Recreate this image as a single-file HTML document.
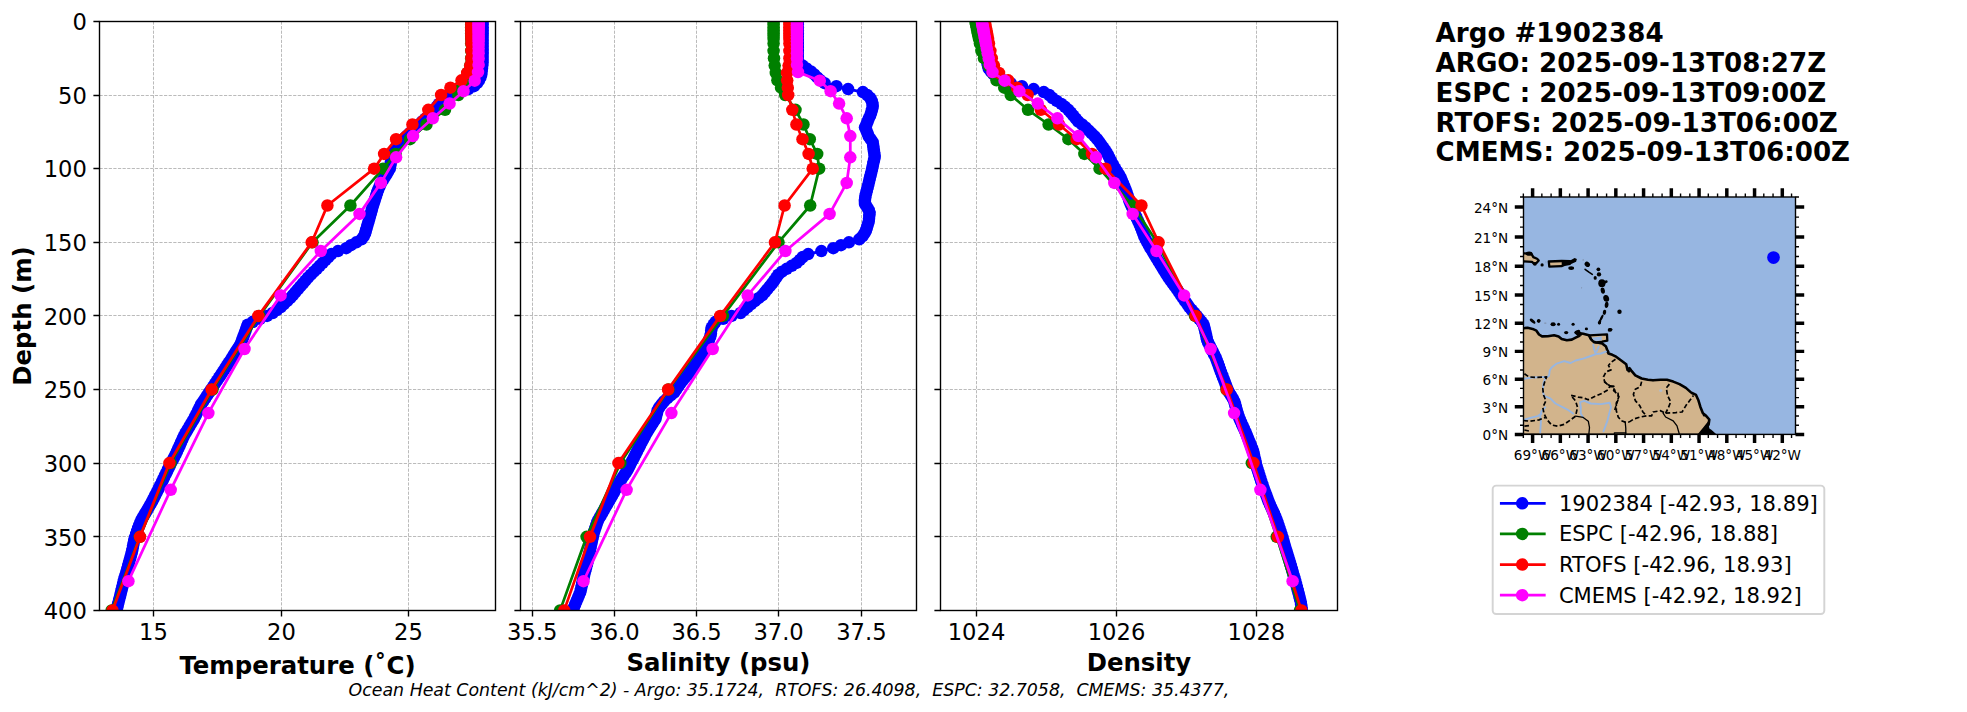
<!DOCTYPE html>
<html><head><meta charset="utf-8"><title>Argo #1902384</title>
<style>html,body{margin:0;padding:0;background:#fff}svg{display:block}text{white-space:pre}</style></head>
<body>
<svg width="1967" height="712" viewBox="0 0 1967 712" font-family='"DejaVu Sans","Liberation Sans",sans-serif'>
<rect width="1967" height="712" fill="#fff"/>
<defs><clipPath id="c0"><rect x="99.50" y="21.40" width="396.00" height="589.00"/></clipPath><clipPath id="c1"><rect x="520.50" y="21.40" width="396.00" height="589.00"/></clipPath><clipPath id="c2"><rect x="940.50" y="21.40" width="397.00" height="589.00"/></clipPath></defs>
<path d="M99.50 95.50H495.50 M99.50 168.50H495.50 M99.50 242.50H495.50 M99.50 315.50H495.50 M99.50 389.50H495.50 M99.50 463.50H495.50 M99.50 536.50H495.50 M153.50 21.40V610.40 M281.50 21.40V610.40 M408.50 21.40V610.40" stroke="#b0b0b0" stroke-width="0.87" stroke-dasharray="3.22 1.39" fill="none"/>
<g clip-path="url(#c0)">
<polyline points="482.6,21.4 482.6,24.3 482.6,27.3 482.6,30.2 482.6,33.2 482.6,36.1 482.6,39.1 482.6,42.0 482.6,45.0 482.6,47.9 482.6,50.8 482.6,53.8 482.6,56.7 482.6,59.7 482.6,62.6 482.3,65.6 482.0,68.5 481.6,71.5 481.3,74.4 480.4,77.4 479.0,80.3 477.0,83.2 474.0,86.2 468.4,89.1 459.7,92.1 450.9,95.0 446.3,98.0 442.6,100.9 438.8,103.9 436.6,106.8 435.0,109.8 431.8,112.7 428.6,115.6 425.4,118.6 422.2,121.5 419.0,124.5 415.8,127.4 412.6,130.4 409.4,133.3 406.2,136.3 403.0,139.2 400.9,142.1 398.8,145.1 396.7,148.0 394.6,151.0 392.5,153.9 392.0,156.9 391.4,159.8 390.9,162.8 390.3,165.7 389.8,168.7 388.1,171.6 386.4,174.5 384.5,177.5 382.7,180.4 380.8,183.4 379.6,186.3 378.3,189.3 377.2,192.2 376.3,195.2 375.4,198.1 374.5,201.0 373.5,204.0 372.6,206.9 371.8,209.9 371.0,212.8 370.1,215.8 369.3,218.7 368.5,221.7 367.6,224.6 366.8,227.6 365.9,230.5 365.1,233.4 363.7,236.4 361.5,239.3 356.3,242.3 350.9,245.2 346.2,248.2 338.0,251.1 331.4,254.1 328.5,257.0 325.6,259.9 322.7,262.9 319.7,265.8 316.8,268.8 313.9,271.7 310.9,274.7 308.0,277.6 305.4,280.6 302.9,283.5 300.3,286.4 297.8,289.4 295.2,292.3 292.7,295.3 290.1,298.2 287.0,301.2 284.0,304.1 280.9,307.1 276.9,310.0 272.7,313.0 267.1,315.9 259.9,318.8 252.8,321.8 247.7,324.7 246.6,327.7 245.6,330.6 244.5,333.6 243.4,336.5 242.3,339.5 241.3,342.4 239.8,345.3 237.9,348.3 236.1,351.2 234.2,354.2 232.4,357.1 230.6,360.1 228.6,363.0 226.7,366.0 224.8,368.9 222.8,371.9 220.9,374.8 219.0,377.7 217.0,380.7 215.0,383.6 213.1,386.6 211.1,389.5 209.1,392.5 207.1,395.4 205.2,398.4 203.2,401.3 201.2,404.2 199.8,407.2 198.3,410.1 196.9,413.1 195.5,416.0 194.0,419.0 192.2,421.9 190.4,424.9 188.7,427.8 186.9,430.8 185.2,433.7 183.6,436.6 182.3,439.6 181.0,442.5 179.7,445.5 178.3,448.4 177.0,451.4 175.6,454.3 174.1,457.3 172.6,460.2 171.1,463.1 169.7,466.1 168.2,469.0 166.8,472.0 165.3,474.9 163.9,477.9 162.5,480.8 161.1,483.8 159.6,486.7 158.1,489.7 156.6,492.6 155.1,495.5 153.6,498.5 152.1,501.4 150.4,504.4 148.7,507.3 147.0,510.3 145.3,513.2 143.5,516.2 141.8,519.1 140.6,522.0 139.4,525.0 138.2,527.9 137.2,530.9 136.2,533.8 135.3,536.8 134.3,539.7 133.7,542.7 133.1,545.6 132.6,548.6 132.0,551.5 131.2,554.4 130.4,557.4 129.6,560.3 128.8,563.3 128.1,566.2 127.2,569.2 126.4,572.1 125.5,575.1 124.6,578.0 123.8,580.9 123.1,583.9 122.4,586.8 121.7,589.8 120.9,592.7 120.2,595.7 119.4,598.6 118.7,601.6 117.9,604.5 117.2,607.5 116.6,610.4" fill="none" stroke="#0000ff" stroke-width="2.75" stroke-linejoin="round"/>
<g fill="#0000ff"><circle cx="482.6" cy="21.4" r="6.25"/><circle cx="482.6" cy="24.3" r="6.25"/><circle cx="482.6" cy="27.3" r="6.25"/><circle cx="482.6" cy="30.2" r="6.25"/><circle cx="482.6" cy="33.2" r="6.25"/><circle cx="482.6" cy="36.1" r="6.25"/><circle cx="482.6" cy="39.1" r="6.25"/><circle cx="482.6" cy="42.0" r="6.25"/><circle cx="482.6" cy="45.0" r="6.25"/><circle cx="482.6" cy="47.9" r="6.25"/><circle cx="482.6" cy="50.8" r="6.25"/><circle cx="482.6" cy="53.8" r="6.25"/><circle cx="482.6" cy="56.7" r="6.25"/><circle cx="482.6" cy="59.7" r="6.25"/><circle cx="482.6" cy="62.6" r="6.25"/><circle cx="482.3" cy="65.6" r="6.25"/><circle cx="482.0" cy="68.5" r="6.25"/><circle cx="481.6" cy="71.5" r="6.25"/><circle cx="481.3" cy="74.4" r="6.25"/><circle cx="480.4" cy="77.4" r="6.25"/><circle cx="479.0" cy="80.3" r="6.25"/><circle cx="477.0" cy="83.2" r="6.25"/><circle cx="474.0" cy="86.2" r="6.25"/><circle cx="468.4" cy="89.1" r="6.25"/><circle cx="459.7" cy="92.1" r="6.25"/><circle cx="450.9" cy="95.0" r="6.25"/><circle cx="446.3" cy="98.0" r="6.25"/><circle cx="442.6" cy="100.9" r="6.25"/><circle cx="438.8" cy="103.9" r="6.25"/><circle cx="436.6" cy="106.8" r="6.25"/><circle cx="435.0" cy="109.8" r="6.25"/><circle cx="431.8" cy="112.7" r="6.25"/><circle cx="428.6" cy="115.6" r="6.25"/><circle cx="425.4" cy="118.6" r="6.25"/><circle cx="422.2" cy="121.5" r="6.25"/><circle cx="419.0" cy="124.5" r="6.25"/><circle cx="415.8" cy="127.4" r="6.25"/><circle cx="412.6" cy="130.4" r="6.25"/><circle cx="409.4" cy="133.3" r="6.25"/><circle cx="406.2" cy="136.3" r="6.25"/><circle cx="403.0" cy="139.2" r="6.25"/><circle cx="400.9" cy="142.1" r="6.25"/><circle cx="398.8" cy="145.1" r="6.25"/><circle cx="396.7" cy="148.0" r="6.25"/><circle cx="394.6" cy="151.0" r="6.25"/><circle cx="392.5" cy="153.9" r="6.25"/><circle cx="392.0" cy="156.9" r="6.25"/><circle cx="391.4" cy="159.8" r="6.25"/><circle cx="390.9" cy="162.8" r="6.25"/><circle cx="390.3" cy="165.7" r="6.25"/><circle cx="389.8" cy="168.7" r="6.25"/><circle cx="388.1" cy="171.6" r="6.25"/><circle cx="386.4" cy="174.5" r="6.25"/><circle cx="384.5" cy="177.5" r="6.25"/><circle cx="382.7" cy="180.4" r="6.25"/><circle cx="380.8" cy="183.4" r="6.25"/><circle cx="379.6" cy="186.3" r="6.25"/><circle cx="378.3" cy="189.3" r="6.25"/><circle cx="377.2" cy="192.2" r="6.25"/><circle cx="376.3" cy="195.2" r="6.25"/><circle cx="375.4" cy="198.1" r="6.25"/><circle cx="374.5" cy="201.0" r="6.25"/><circle cx="373.5" cy="204.0" r="6.25"/><circle cx="372.6" cy="206.9" r="6.25"/><circle cx="371.8" cy="209.9" r="6.25"/><circle cx="371.0" cy="212.8" r="6.25"/><circle cx="370.1" cy="215.8" r="6.25"/><circle cx="369.3" cy="218.7" r="6.25"/><circle cx="368.5" cy="221.7" r="6.25"/><circle cx="367.6" cy="224.6" r="6.25"/><circle cx="366.8" cy="227.6" r="6.25"/><circle cx="365.9" cy="230.5" r="6.25"/><circle cx="365.1" cy="233.4" r="6.25"/><circle cx="363.7" cy="236.4" r="6.25"/><circle cx="361.5" cy="239.3" r="6.25"/><circle cx="356.3" cy="242.3" r="6.25"/><circle cx="350.9" cy="245.2" r="6.25"/><circle cx="346.2" cy="248.2" r="6.25"/><circle cx="338.0" cy="251.1" r="6.25"/><circle cx="331.4" cy="254.1" r="6.25"/><circle cx="328.5" cy="257.0" r="6.25"/><circle cx="325.6" cy="259.9" r="6.25"/><circle cx="322.7" cy="262.9" r="6.25"/><circle cx="319.7" cy="265.8" r="6.25"/><circle cx="316.8" cy="268.8" r="6.25"/><circle cx="313.9" cy="271.7" r="6.25"/><circle cx="310.9" cy="274.7" r="6.25"/><circle cx="308.0" cy="277.6" r="6.25"/><circle cx="305.4" cy="280.6" r="6.25"/><circle cx="302.9" cy="283.5" r="6.25"/><circle cx="300.3" cy="286.4" r="6.25"/><circle cx="297.8" cy="289.4" r="6.25"/><circle cx="295.2" cy="292.3" r="6.25"/><circle cx="292.7" cy="295.3" r="6.25"/><circle cx="290.1" cy="298.2" r="6.25"/><circle cx="287.0" cy="301.2" r="6.25"/><circle cx="284.0" cy="304.1" r="6.25"/><circle cx="280.9" cy="307.1" r="6.25"/><circle cx="276.9" cy="310.0" r="6.25"/><circle cx="272.7" cy="313.0" r="6.25"/><circle cx="267.1" cy="315.9" r="6.25"/><circle cx="259.9" cy="318.8" r="6.25"/><circle cx="252.8" cy="321.8" r="6.25"/><circle cx="247.7" cy="324.7" r="6.25"/><circle cx="246.6" cy="327.7" r="6.25"/><circle cx="245.6" cy="330.6" r="6.25"/><circle cx="244.5" cy="333.6" r="6.25"/><circle cx="243.4" cy="336.5" r="6.25"/><circle cx="242.3" cy="339.5" r="6.25"/><circle cx="241.3" cy="342.4" r="6.25"/><circle cx="239.8" cy="345.3" r="6.25"/><circle cx="237.9" cy="348.3" r="6.25"/><circle cx="236.1" cy="351.2" r="6.25"/><circle cx="234.2" cy="354.2" r="6.25"/><circle cx="232.4" cy="357.1" r="6.25"/><circle cx="230.6" cy="360.1" r="6.25"/><circle cx="228.6" cy="363.0" r="6.25"/><circle cx="226.7" cy="366.0" r="6.25"/><circle cx="224.8" cy="368.9" r="6.25"/><circle cx="222.8" cy="371.9" r="6.25"/><circle cx="220.9" cy="374.8" r="6.25"/><circle cx="219.0" cy="377.7" r="6.25"/><circle cx="217.0" cy="380.7" r="6.25"/><circle cx="215.0" cy="383.6" r="6.25"/><circle cx="213.1" cy="386.6" r="6.25"/><circle cx="211.1" cy="389.5" r="6.25"/><circle cx="209.1" cy="392.5" r="6.25"/><circle cx="207.1" cy="395.4" r="6.25"/><circle cx="205.2" cy="398.4" r="6.25"/><circle cx="203.2" cy="401.3" r="6.25"/><circle cx="201.2" cy="404.2" r="6.25"/><circle cx="199.8" cy="407.2" r="6.25"/><circle cx="198.3" cy="410.1" r="6.25"/><circle cx="196.9" cy="413.1" r="6.25"/><circle cx="195.5" cy="416.0" r="6.25"/><circle cx="194.0" cy="419.0" r="6.25"/><circle cx="192.2" cy="421.9" r="6.25"/><circle cx="190.4" cy="424.9" r="6.25"/><circle cx="188.7" cy="427.8" r="6.25"/><circle cx="186.9" cy="430.8" r="6.25"/><circle cx="185.2" cy="433.7" r="6.25"/><circle cx="183.6" cy="436.6" r="6.25"/><circle cx="182.3" cy="439.6" r="6.25"/><circle cx="181.0" cy="442.5" r="6.25"/><circle cx="179.7" cy="445.5" r="6.25"/><circle cx="178.3" cy="448.4" r="6.25"/><circle cx="177.0" cy="451.4" r="6.25"/><circle cx="175.6" cy="454.3" r="6.25"/><circle cx="174.1" cy="457.3" r="6.25"/><circle cx="172.6" cy="460.2" r="6.25"/><circle cx="171.1" cy="463.1" r="6.25"/><circle cx="169.7" cy="466.1" r="6.25"/><circle cx="168.2" cy="469.0" r="6.25"/><circle cx="166.8" cy="472.0" r="6.25"/><circle cx="165.3" cy="474.9" r="6.25"/><circle cx="163.9" cy="477.9" r="6.25"/><circle cx="162.5" cy="480.8" r="6.25"/><circle cx="161.1" cy="483.8" r="6.25"/><circle cx="159.6" cy="486.7" r="6.25"/><circle cx="158.1" cy="489.7" r="6.25"/><circle cx="156.6" cy="492.6" r="6.25"/><circle cx="155.1" cy="495.5" r="6.25"/><circle cx="153.6" cy="498.5" r="6.25"/><circle cx="152.1" cy="501.4" r="6.25"/><circle cx="150.4" cy="504.4" r="6.25"/><circle cx="148.7" cy="507.3" r="6.25"/><circle cx="147.0" cy="510.3" r="6.25"/><circle cx="145.3" cy="513.2" r="6.25"/><circle cx="143.5" cy="516.2" r="6.25"/><circle cx="141.8" cy="519.1" r="6.25"/><circle cx="140.6" cy="522.0" r="6.25"/><circle cx="139.4" cy="525.0" r="6.25"/><circle cx="138.2" cy="527.9" r="6.25"/><circle cx="137.2" cy="530.9" r="6.25"/><circle cx="136.2" cy="533.8" r="6.25"/><circle cx="135.3" cy="536.8" r="6.25"/><circle cx="134.3" cy="539.7" r="6.25"/><circle cx="133.7" cy="542.7" r="6.25"/><circle cx="133.1" cy="545.6" r="6.25"/><circle cx="132.6" cy="548.6" r="6.25"/><circle cx="132.0" cy="551.5" r="6.25"/><circle cx="131.2" cy="554.4" r="6.25"/><circle cx="130.4" cy="557.4" r="6.25"/><circle cx="129.6" cy="560.3" r="6.25"/><circle cx="128.8" cy="563.3" r="6.25"/><circle cx="128.1" cy="566.2" r="6.25"/><circle cx="127.2" cy="569.2" r="6.25"/><circle cx="126.4" cy="572.1" r="6.25"/><circle cx="125.5" cy="575.1" r="6.25"/><circle cx="124.6" cy="578.0" r="6.25"/><circle cx="123.8" cy="580.9" r="6.25"/><circle cx="123.1" cy="583.9" r="6.25"/><circle cx="122.4" cy="586.8" r="6.25"/><circle cx="121.7" cy="589.8" r="6.25"/><circle cx="120.9" cy="592.7" r="6.25"/><circle cx="120.2" cy="595.7" r="6.25"/><circle cx="119.4" cy="598.6" r="6.25"/><circle cx="118.7" cy="601.6" r="6.25"/><circle cx="117.9" cy="604.5" r="6.25"/><circle cx="117.2" cy="607.5" r="6.25"/><circle cx="116.6" cy="610.4" r="6.25"/></g>
<polyline points="471.2,21.4 471.2,24.3 471.2,27.3 471.2,30.2 471.2,33.2 471.2,36.1 471.2,39.1 471.2,43.5 471.2,50.8 471.2,58.2 470.2,65.6 467.6,72.9 464.5,80.3 461.5,87.7 458.4,95.0 445.0,109.8 426.5,124.5 410.0,139.2 395.5,153.9 383.1,168.7 350.4,205.5 312.5,242.3 259.3,315.9 212.5,389.5 170.6,463.1 139.8,536.8 111.6,610.4" fill="none" stroke="#008000" stroke-width="2.75" stroke-linejoin="round"/>
<g fill="#008000"><circle cx="471.2" cy="21.4" r="6.25"/><circle cx="471.2" cy="24.3" r="6.25"/><circle cx="471.2" cy="27.3" r="6.25"/><circle cx="471.2" cy="30.2" r="6.25"/><circle cx="471.2" cy="33.2" r="6.25"/><circle cx="471.2" cy="36.1" r="6.25"/><circle cx="471.2" cy="39.1" r="6.25"/><circle cx="471.2" cy="43.5" r="6.25"/><circle cx="471.2" cy="50.8" r="6.25"/><circle cx="471.2" cy="58.2" r="6.25"/><circle cx="470.2" cy="65.6" r="6.25"/><circle cx="467.6" cy="72.9" r="6.25"/><circle cx="464.5" cy="80.3" r="6.25"/><circle cx="461.5" cy="87.7" r="6.25"/><circle cx="458.4" cy="95.0" r="6.25"/><circle cx="445.0" cy="109.8" r="6.25"/><circle cx="426.5" cy="124.5" r="6.25"/><circle cx="410.0" cy="139.2" r="6.25"/><circle cx="395.5" cy="153.9" r="6.25"/><circle cx="383.1" cy="168.7" r="6.25"/><circle cx="350.4" cy="205.5" r="6.25"/><circle cx="312.5" cy="242.3" r="6.25"/><circle cx="259.3" cy="315.9" r="6.25"/><circle cx="212.5" cy="389.5" r="6.25"/><circle cx="170.6" cy="463.1" r="6.25"/><circle cx="139.8" cy="536.8" r="6.25"/><circle cx="111.6" cy="610.4" r="6.25"/></g>
<polyline points="471.4,21.4 471.4,24.3 471.4,27.3 471.4,30.2 471.4,33.2 471.4,36.1 471.4,39.1 471.4,43.5 471.4,50.8 471.4,58.2 470.2,65.6 467.2,72.9 461.5,80.3 450.4,87.7 441.1,95.0 428.3,109.8 412.4,124.5 396.1,139.2 384.1,153.9 374.1,168.7 327.4,205.5 311.7,242.3 258.3,315.9 211.6,389.5 169.4,463.1 140.0,536.8 112.5,610.4" fill="none" stroke="#ff0000" stroke-width="2.75" stroke-linejoin="round"/>
<g fill="#ff0000"><circle cx="471.4" cy="21.4" r="6.25"/><circle cx="471.4" cy="24.3" r="6.25"/><circle cx="471.4" cy="27.3" r="6.25"/><circle cx="471.4" cy="30.2" r="6.25"/><circle cx="471.4" cy="33.2" r="6.25"/><circle cx="471.4" cy="36.1" r="6.25"/><circle cx="471.4" cy="39.1" r="6.25"/><circle cx="471.4" cy="43.5" r="6.25"/><circle cx="471.4" cy="50.8" r="6.25"/><circle cx="471.4" cy="58.2" r="6.25"/><circle cx="470.2" cy="65.6" r="6.25"/><circle cx="467.2" cy="72.9" r="6.25"/><circle cx="461.5" cy="80.3" r="6.25"/><circle cx="450.4" cy="87.7" r="6.25"/><circle cx="441.1" cy="95.0" r="6.25"/><circle cx="428.3" cy="109.8" r="6.25"/><circle cx="412.4" cy="124.5" r="6.25"/><circle cx="396.1" cy="139.2" r="6.25"/><circle cx="384.1" cy="153.9" r="6.25"/><circle cx="374.1" cy="168.7" r="6.25"/><circle cx="327.4" cy="205.5" r="6.25"/><circle cx="311.7" cy="242.3" r="6.25"/><circle cx="258.3" cy="315.9" r="6.25"/><circle cx="211.6" cy="389.5" r="6.25"/><circle cx="169.4" cy="463.1" r="6.25"/><circle cx="140.0" cy="536.8" r="6.25"/><circle cx="112.5" cy="610.4" r="6.25"/></g>
<polyline points="478.6,22.1 478.6,23.7 478.6,25.3 478.6,27.0 478.6,28.9 478.6,30.9 478.6,33.1 478.6,35.5 478.6,38.2 478.6,41.2 478.6,44.7 478.6,48.6 478.6,53.2 478.6,58.5 478.6,64.7 478.0,72.1 474.7,80.7 463.5,91.2 449.6,103.6 432.8,118.3 413.0,136.1 396.1,157.3 380.9,182.9 359.5,213.9 320.8,251.0 280.6,295.4 244.5,349.0 208.4,413.1 170.7,489.8 128.4,581.2" fill="none" stroke="#ff00ff" stroke-width="2.75" stroke-linejoin="round"/>
<g fill="#ff00ff"><circle cx="478.6" cy="22.1" r="6.25"/><circle cx="478.6" cy="23.7" r="6.25"/><circle cx="478.6" cy="25.3" r="6.25"/><circle cx="478.6" cy="27.0" r="6.25"/><circle cx="478.6" cy="28.9" r="6.25"/><circle cx="478.6" cy="30.9" r="6.25"/><circle cx="478.6" cy="33.1" r="6.25"/><circle cx="478.6" cy="35.5" r="6.25"/><circle cx="478.6" cy="38.2" r="6.25"/><circle cx="478.6" cy="41.2" r="6.25"/><circle cx="478.6" cy="44.7" r="6.25"/><circle cx="478.6" cy="48.6" r="6.25"/><circle cx="478.6" cy="53.2" r="6.25"/><circle cx="478.6" cy="58.5" r="6.25"/><circle cx="478.6" cy="64.7" r="6.25"/><circle cx="478.0" cy="72.1" r="6.25"/><circle cx="474.7" cy="80.7" r="6.25"/><circle cx="463.5" cy="91.2" r="6.25"/><circle cx="449.6" cy="103.6" r="6.25"/><circle cx="432.8" cy="118.3" r="6.25"/><circle cx="413.0" cy="136.1" r="6.25"/><circle cx="396.1" cy="157.3" r="6.25"/><circle cx="380.9" cy="182.9" r="6.25"/><circle cx="359.5" cy="213.9" r="6.25"/><circle cx="320.8" cy="251.0" r="6.25"/><circle cx="280.6" cy="295.4" r="6.25"/><circle cx="244.5" cy="349.0" r="6.25"/><circle cx="208.4" cy="413.1" r="6.25"/><circle cx="170.7" cy="489.8" r="6.25"/><circle cx="128.4" cy="581.2" r="6.25"/></g>
</g>
<rect x="99.50" y="21.50" width="396.00" height="589.00" fill="none" stroke="#000" stroke-width="1.39"/>
<path d="M99.50 21.50h-6.10 M99.50 95.50h-6.10 M99.50 168.50h-6.10 M99.50 242.50h-6.10 M99.50 315.50h-6.10 M99.50 389.50h-6.10 M99.50 463.50h-6.10 M99.50 536.50h-6.10 M99.50 610.50h-6.10 M153.50 610.50v6.10 M281.50 610.50v6.10 M408.50 610.50v6.10" stroke="#000" stroke-width="1.39" fill="none"/>
<text x="153.50" y="640.20" font-size="22.64" text-anchor="middle">15</text>
<text x="281.50" y="640.20" font-size="22.64" text-anchor="middle">20</text>
<text x="408.50" y="640.20" font-size="22.64" text-anchor="middle">25</text>
<text x="297.50" y="673.80" font-size="24.38" font-weight="bold" text-anchor="middle">Temperature (˚C)</text>
<text x="86.90" y="30.20" font-size="22.64" text-anchor="end">0</text>
<text x="86.90" y="103.83" font-size="22.64" text-anchor="end">50</text>
<text x="86.90" y="177.45" font-size="22.64" text-anchor="end">100</text>
<text x="86.90" y="251.08" font-size="22.64" text-anchor="end">150</text>
<text x="86.90" y="324.70" font-size="22.64" text-anchor="end">200</text>
<text x="86.90" y="398.32" font-size="22.64" text-anchor="end">250</text>
<text x="86.90" y="471.95" font-size="22.64" text-anchor="end">300</text>
<text x="86.90" y="545.57" font-size="22.64" text-anchor="end">350</text>
<text x="86.90" y="619.20" font-size="22.64" text-anchor="end">400</text>
<path d="M520.50 95.50H916.50 M520.50 168.50H916.50 M520.50 242.50H916.50 M520.50 315.50H916.50 M520.50 389.50H916.50 M520.50 463.50H916.50 M520.50 536.50H916.50 M532.50 21.40V610.40 M614.50 21.40V610.40 M696.50 21.40V610.40 M778.50 21.40V610.40 M861.50 21.40V610.40" stroke="#b0b0b0" stroke-width="0.87" stroke-dasharray="3.22 1.39" fill="none"/>
<g clip-path="url(#c1)">
<polyline points="797.8,21.4 797.8,24.3 797.8,27.3 797.8,30.2 797.8,33.2 797.8,36.1 797.8,39.1 797.8,42.0 797.8,45.0 797.8,47.9 797.8,50.8 797.8,53.8 797.8,56.7 797.8,59.7 798.6,62.6 802.6,65.6 806.5,68.5 810.9,71.5 814.3,74.4 817.3,77.4 820.5,80.3 824.6,83.2 836.4,86.2 848.1,89.1 862.9,92.1 867.2,95.0 870.2,98.0 871.7,100.9 872.5,103.9 872.7,106.8 872.0,109.8 871.1,112.7 870.2,115.6 868.7,118.6 867.6,121.5 866.4,124.5 865.0,127.4 866.4,130.4 867.6,133.3 868.7,136.3 870.7,139.2 872.7,142.1 873.1,145.1 873.5,148.0 873.9,151.0 874.4,153.9 874.7,156.9 874.1,159.8 873.4,162.8 872.8,165.7 872.1,168.7 871.5,171.6 870.8,174.5 870.0,177.5 869.3,180.4 868.6,183.4 867.9,186.3 867.1,189.3 866.4,192.2 865.6,195.2 865.2,198.1 864.9,201.0 865.0,204.0 866.9,206.9 868.7,209.9 869.6,212.8 869.3,215.8 869.0,218.7 868.7,221.7 867.8,224.6 866.9,227.6 866.0,230.5 864.4,233.4 862.4,236.4 859.2,239.3 848.9,242.3 841.0,245.2 833.3,248.2 821.4,251.1 808.2,254.1 802.8,257.0 799.9,259.9 796.6,262.9 791.7,265.8 786.7,268.8 782.0,271.7 778.3,274.7 776.3,277.6 774.2,280.6 772.1,283.5 769.7,286.4 767.2,289.4 764.8,292.3 762.2,295.3 758.5,298.2 754.8,301.2 751.2,304.1 747.7,307.1 744.1,310.0 740.6,313.0 731.6,315.9 723.1,318.8 715.5,321.8 713.5,324.7 711.6,327.7 711.2,330.6 710.9,333.6 710.3,336.5 709.1,339.5 708.0,342.4 706.8,345.3 705.7,348.3 704.2,351.2 702.4,354.2 700.6,357.1 698.7,360.1 696.8,363.0 694.5,366.0 692.2,368.9 689.9,371.9 687.5,374.8 685.0,377.7 682.6,380.7 680.3,383.6 678.2,386.6 676.2,389.5 674.1,392.5 670.7,395.4 667.2,398.4 664.0,401.3 661.7,404.2 659.4,407.2 657.7,410.1 657.0,413.1 656.2,416.0 655.5,419.0 653.6,421.9 651.7,424.9 649.8,427.8 647.9,430.8 646.2,433.7 644.7,436.6 643.1,439.6 641.5,442.5 640.0,445.5 638.5,448.4 637.0,451.4 635.5,454.3 634.0,457.3 632.5,460.2 631.0,463.1 629.6,466.1 628.1,469.0 626.3,472.0 624.3,474.9 622.3,477.9 620.3,480.8 618.6,483.8 617.0,486.7 615.4,489.7 613.9,492.6 612.2,495.5 610.5,498.5 608.8,501.4 607.1,504.4 605.4,507.3 603.7,510.3 602.1,513.2 600.4,516.2 598.7,519.1 597.4,522.0 596.4,525.0 595.4,527.9 594.4,530.9 593.5,533.8 592.9,536.8 592.2,539.7 591.6,542.7 590.9,545.6 590.3,548.6 589.7,551.5 589.1,554.4 588.5,557.4 587.8,560.3 587.2,563.3 586.4,566.2 585.7,569.2 584.9,572.1 584.2,575.1 583.5,578.0 582.8,580.9 582.2,583.9 581.5,586.8 580.9,589.8 580.1,592.7 578.8,595.7 577.6,598.6 576.3,601.6 575.1,604.5 573.9,607.5 573.0,610.4" fill="none" stroke="#0000ff" stroke-width="2.75" stroke-linejoin="round"/>
<g fill="#0000ff"><circle cx="797.8" cy="21.4" r="6.25"/><circle cx="797.8" cy="24.3" r="6.25"/><circle cx="797.8" cy="27.3" r="6.25"/><circle cx="797.8" cy="30.2" r="6.25"/><circle cx="797.8" cy="33.2" r="6.25"/><circle cx="797.8" cy="36.1" r="6.25"/><circle cx="797.8" cy="39.1" r="6.25"/><circle cx="797.8" cy="42.0" r="6.25"/><circle cx="797.8" cy="45.0" r="6.25"/><circle cx="797.8" cy="47.9" r="6.25"/><circle cx="797.8" cy="50.8" r="6.25"/><circle cx="797.8" cy="53.8" r="6.25"/><circle cx="797.8" cy="56.7" r="6.25"/><circle cx="797.8" cy="59.7" r="6.25"/><circle cx="798.6" cy="62.6" r="6.25"/><circle cx="802.6" cy="65.6" r="6.25"/><circle cx="806.5" cy="68.5" r="6.25"/><circle cx="810.9" cy="71.5" r="6.25"/><circle cx="814.3" cy="74.4" r="6.25"/><circle cx="817.3" cy="77.4" r="6.25"/><circle cx="820.5" cy="80.3" r="6.25"/><circle cx="824.6" cy="83.2" r="6.25"/><circle cx="836.4" cy="86.2" r="6.25"/><circle cx="848.1" cy="89.1" r="6.25"/><circle cx="862.9" cy="92.1" r="6.25"/><circle cx="867.2" cy="95.0" r="6.25"/><circle cx="870.2" cy="98.0" r="6.25"/><circle cx="871.7" cy="100.9" r="6.25"/><circle cx="872.5" cy="103.9" r="6.25"/><circle cx="872.7" cy="106.8" r="6.25"/><circle cx="872.0" cy="109.8" r="6.25"/><circle cx="871.1" cy="112.7" r="6.25"/><circle cx="870.2" cy="115.6" r="6.25"/><circle cx="868.7" cy="118.6" r="6.25"/><circle cx="867.6" cy="121.5" r="6.25"/><circle cx="866.4" cy="124.5" r="6.25"/><circle cx="865.0" cy="127.4" r="6.25"/><circle cx="866.4" cy="130.4" r="6.25"/><circle cx="867.6" cy="133.3" r="6.25"/><circle cx="868.7" cy="136.3" r="6.25"/><circle cx="870.7" cy="139.2" r="6.25"/><circle cx="872.7" cy="142.1" r="6.25"/><circle cx="873.1" cy="145.1" r="6.25"/><circle cx="873.5" cy="148.0" r="6.25"/><circle cx="873.9" cy="151.0" r="6.25"/><circle cx="874.4" cy="153.9" r="6.25"/><circle cx="874.7" cy="156.9" r="6.25"/><circle cx="874.1" cy="159.8" r="6.25"/><circle cx="873.4" cy="162.8" r="6.25"/><circle cx="872.8" cy="165.7" r="6.25"/><circle cx="872.1" cy="168.7" r="6.25"/><circle cx="871.5" cy="171.6" r="6.25"/><circle cx="870.8" cy="174.5" r="6.25"/><circle cx="870.0" cy="177.5" r="6.25"/><circle cx="869.3" cy="180.4" r="6.25"/><circle cx="868.6" cy="183.4" r="6.25"/><circle cx="867.9" cy="186.3" r="6.25"/><circle cx="867.1" cy="189.3" r="6.25"/><circle cx="866.4" cy="192.2" r="6.25"/><circle cx="865.6" cy="195.2" r="6.25"/><circle cx="865.2" cy="198.1" r="6.25"/><circle cx="864.9" cy="201.0" r="6.25"/><circle cx="865.0" cy="204.0" r="6.25"/><circle cx="866.9" cy="206.9" r="6.25"/><circle cx="868.7" cy="209.9" r="6.25"/><circle cx="869.6" cy="212.8" r="6.25"/><circle cx="869.3" cy="215.8" r="6.25"/><circle cx="869.0" cy="218.7" r="6.25"/><circle cx="868.7" cy="221.7" r="6.25"/><circle cx="867.8" cy="224.6" r="6.25"/><circle cx="866.9" cy="227.6" r="6.25"/><circle cx="866.0" cy="230.5" r="6.25"/><circle cx="864.4" cy="233.4" r="6.25"/><circle cx="862.4" cy="236.4" r="6.25"/><circle cx="859.2" cy="239.3" r="6.25"/><circle cx="848.9" cy="242.3" r="6.25"/><circle cx="841.0" cy="245.2" r="6.25"/><circle cx="833.3" cy="248.2" r="6.25"/><circle cx="821.4" cy="251.1" r="6.25"/><circle cx="808.2" cy="254.1" r="6.25"/><circle cx="802.8" cy="257.0" r="6.25"/><circle cx="799.9" cy="259.9" r="6.25"/><circle cx="796.6" cy="262.9" r="6.25"/><circle cx="791.7" cy="265.8" r="6.25"/><circle cx="786.7" cy="268.8" r="6.25"/><circle cx="782.0" cy="271.7" r="6.25"/><circle cx="778.3" cy="274.7" r="6.25"/><circle cx="776.3" cy="277.6" r="6.25"/><circle cx="774.2" cy="280.6" r="6.25"/><circle cx="772.1" cy="283.5" r="6.25"/><circle cx="769.7" cy="286.4" r="6.25"/><circle cx="767.2" cy="289.4" r="6.25"/><circle cx="764.8" cy="292.3" r="6.25"/><circle cx="762.2" cy="295.3" r="6.25"/><circle cx="758.5" cy="298.2" r="6.25"/><circle cx="754.8" cy="301.2" r="6.25"/><circle cx="751.2" cy="304.1" r="6.25"/><circle cx="747.7" cy="307.1" r="6.25"/><circle cx="744.1" cy="310.0" r="6.25"/><circle cx="740.6" cy="313.0" r="6.25"/><circle cx="731.6" cy="315.9" r="6.25"/><circle cx="723.1" cy="318.8" r="6.25"/><circle cx="715.5" cy="321.8" r="6.25"/><circle cx="713.5" cy="324.7" r="6.25"/><circle cx="711.6" cy="327.7" r="6.25"/><circle cx="711.2" cy="330.6" r="6.25"/><circle cx="710.9" cy="333.6" r="6.25"/><circle cx="710.3" cy="336.5" r="6.25"/><circle cx="709.1" cy="339.5" r="6.25"/><circle cx="708.0" cy="342.4" r="6.25"/><circle cx="706.8" cy="345.3" r="6.25"/><circle cx="705.7" cy="348.3" r="6.25"/><circle cx="704.2" cy="351.2" r="6.25"/><circle cx="702.4" cy="354.2" r="6.25"/><circle cx="700.6" cy="357.1" r="6.25"/><circle cx="698.7" cy="360.1" r="6.25"/><circle cx="696.8" cy="363.0" r="6.25"/><circle cx="694.5" cy="366.0" r="6.25"/><circle cx="692.2" cy="368.9" r="6.25"/><circle cx="689.9" cy="371.9" r="6.25"/><circle cx="687.5" cy="374.8" r="6.25"/><circle cx="685.0" cy="377.7" r="6.25"/><circle cx="682.6" cy="380.7" r="6.25"/><circle cx="680.3" cy="383.6" r="6.25"/><circle cx="678.2" cy="386.6" r="6.25"/><circle cx="676.2" cy="389.5" r="6.25"/><circle cx="674.1" cy="392.5" r="6.25"/><circle cx="670.7" cy="395.4" r="6.25"/><circle cx="667.2" cy="398.4" r="6.25"/><circle cx="664.0" cy="401.3" r="6.25"/><circle cx="661.7" cy="404.2" r="6.25"/><circle cx="659.4" cy="407.2" r="6.25"/><circle cx="657.7" cy="410.1" r="6.25"/><circle cx="657.0" cy="413.1" r="6.25"/><circle cx="656.2" cy="416.0" r="6.25"/><circle cx="655.5" cy="419.0" r="6.25"/><circle cx="653.6" cy="421.9" r="6.25"/><circle cx="651.7" cy="424.9" r="6.25"/><circle cx="649.8" cy="427.8" r="6.25"/><circle cx="647.9" cy="430.8" r="6.25"/><circle cx="646.2" cy="433.7" r="6.25"/><circle cx="644.7" cy="436.6" r="6.25"/><circle cx="643.1" cy="439.6" r="6.25"/><circle cx="641.5" cy="442.5" r="6.25"/><circle cx="640.0" cy="445.5" r="6.25"/><circle cx="638.5" cy="448.4" r="6.25"/><circle cx="637.0" cy="451.4" r="6.25"/><circle cx="635.5" cy="454.3" r="6.25"/><circle cx="634.0" cy="457.3" r="6.25"/><circle cx="632.5" cy="460.2" r="6.25"/><circle cx="631.0" cy="463.1" r="6.25"/><circle cx="629.6" cy="466.1" r="6.25"/><circle cx="628.1" cy="469.0" r="6.25"/><circle cx="626.3" cy="472.0" r="6.25"/><circle cx="624.3" cy="474.9" r="6.25"/><circle cx="622.3" cy="477.9" r="6.25"/><circle cx="620.3" cy="480.8" r="6.25"/><circle cx="618.6" cy="483.8" r="6.25"/><circle cx="617.0" cy="486.7" r="6.25"/><circle cx="615.4" cy="489.7" r="6.25"/><circle cx="613.9" cy="492.6" r="6.25"/><circle cx="612.2" cy="495.5" r="6.25"/><circle cx="610.5" cy="498.5" r="6.25"/><circle cx="608.8" cy="501.4" r="6.25"/><circle cx="607.1" cy="504.4" r="6.25"/><circle cx="605.4" cy="507.3" r="6.25"/><circle cx="603.7" cy="510.3" r="6.25"/><circle cx="602.1" cy="513.2" r="6.25"/><circle cx="600.4" cy="516.2" r="6.25"/><circle cx="598.7" cy="519.1" r="6.25"/><circle cx="597.4" cy="522.0" r="6.25"/><circle cx="596.4" cy="525.0" r="6.25"/><circle cx="595.4" cy="527.9" r="6.25"/><circle cx="594.4" cy="530.9" r="6.25"/><circle cx="593.5" cy="533.8" r="6.25"/><circle cx="592.9" cy="536.8" r="6.25"/><circle cx="592.2" cy="539.7" r="6.25"/><circle cx="591.6" cy="542.7" r="6.25"/><circle cx="590.9" cy="545.6" r="6.25"/><circle cx="590.3" cy="548.6" r="6.25"/><circle cx="589.7" cy="551.5" r="6.25"/><circle cx="589.1" cy="554.4" r="6.25"/><circle cx="588.5" cy="557.4" r="6.25"/><circle cx="587.8" cy="560.3" r="6.25"/><circle cx="587.2" cy="563.3" r="6.25"/><circle cx="586.4" cy="566.2" r="6.25"/><circle cx="585.7" cy="569.2" r="6.25"/><circle cx="584.9" cy="572.1" r="6.25"/><circle cx="584.2" cy="575.1" r="6.25"/><circle cx="583.5" cy="578.0" r="6.25"/><circle cx="582.8" cy="580.9" r="6.25"/><circle cx="582.2" cy="583.9" r="6.25"/><circle cx="581.5" cy="586.8" r="6.25"/><circle cx="580.9" cy="589.8" r="6.25"/><circle cx="580.1" cy="592.7" r="6.25"/><circle cx="578.8" cy="595.7" r="6.25"/><circle cx="577.6" cy="598.6" r="6.25"/><circle cx="576.3" cy="601.6" r="6.25"/><circle cx="575.1" cy="604.5" r="6.25"/><circle cx="573.9" cy="607.5" r="6.25"/><circle cx="573.0" cy="610.4" r="6.25"/></g>
<polyline points="773.6,21.4 773.6,24.3 773.6,27.3 773.6,30.2 773.6,33.2 773.6,36.1 773.6,39.1 773.6,43.5 773.6,50.8 774.0,58.2 774.7,65.6 775.8,72.9 777.4,80.3 781.0,87.7 785.2,95.0 795.5,109.8 803.5,124.5 809.8,139.2 817.2,153.9 819.2,168.7 810.2,205.5 778.5,242.3 722.9,315.9 668.5,389.5 620.4,463.1 586.6,536.8 560.1,610.4" fill="none" stroke="#008000" stroke-width="2.75" stroke-linejoin="round"/>
<g fill="#008000"><circle cx="773.6" cy="21.4" r="6.25"/><circle cx="773.6" cy="24.3" r="6.25"/><circle cx="773.6" cy="27.3" r="6.25"/><circle cx="773.6" cy="30.2" r="6.25"/><circle cx="773.6" cy="33.2" r="6.25"/><circle cx="773.6" cy="36.1" r="6.25"/><circle cx="773.6" cy="39.1" r="6.25"/><circle cx="773.6" cy="43.5" r="6.25"/><circle cx="773.6" cy="50.8" r="6.25"/><circle cx="774.0" cy="58.2" r="6.25"/><circle cx="774.7" cy="65.6" r="6.25"/><circle cx="775.8" cy="72.9" r="6.25"/><circle cx="777.4" cy="80.3" r="6.25"/><circle cx="781.0" cy="87.7" r="6.25"/><circle cx="785.2" cy="95.0" r="6.25"/><circle cx="795.5" cy="109.8" r="6.25"/><circle cx="803.5" cy="124.5" r="6.25"/><circle cx="809.8" cy="139.2" r="6.25"/><circle cx="817.2" cy="153.9" r="6.25"/><circle cx="819.2" cy="168.7" r="6.25"/><circle cx="810.2" cy="205.5" r="6.25"/><circle cx="778.5" cy="242.3" r="6.25"/><circle cx="722.9" cy="315.9" r="6.25"/><circle cx="668.5" cy="389.5" r="6.25"/><circle cx="620.4" cy="463.1" r="6.25"/><circle cx="586.6" cy="536.8" r="6.25"/><circle cx="560.1" cy="610.4" r="6.25"/></g>
<polyline points="789.4,21.4 789.4,24.3 789.4,27.3 789.4,30.2 789.4,33.2 789.4,36.1 789.4,39.1 789.4,43.5 789.4,50.8 789.4,58.2 788.6,65.6 787.0,72.9 787.2,80.3 787.8,87.7 788.2,95.0 792.3,109.8 796.4,124.5 802.5,139.2 808.6,153.9 812.7,168.7 784.6,205.5 774.9,242.3 720.2,315.9 668.1,389.5 618.4,463.1 590.0,536.8 564.2,610.4" fill="none" stroke="#ff0000" stroke-width="2.75" stroke-linejoin="round"/>
<g fill="#ff0000"><circle cx="789.4" cy="21.4" r="6.25"/><circle cx="789.4" cy="24.3" r="6.25"/><circle cx="789.4" cy="27.3" r="6.25"/><circle cx="789.4" cy="30.2" r="6.25"/><circle cx="789.4" cy="33.2" r="6.25"/><circle cx="789.4" cy="36.1" r="6.25"/><circle cx="789.4" cy="39.1" r="6.25"/><circle cx="789.4" cy="43.5" r="6.25"/><circle cx="789.4" cy="50.8" r="6.25"/><circle cx="789.4" cy="58.2" r="6.25"/><circle cx="788.6" cy="65.6" r="6.25"/><circle cx="787.0" cy="72.9" r="6.25"/><circle cx="787.2" cy="80.3" r="6.25"/><circle cx="787.8" cy="87.7" r="6.25"/><circle cx="788.2" cy="95.0" r="6.25"/><circle cx="792.3" cy="109.8" r="6.25"/><circle cx="796.4" cy="124.5" r="6.25"/><circle cx="802.5" cy="139.2" r="6.25"/><circle cx="808.6" cy="153.9" r="6.25"/><circle cx="812.7" cy="168.7" r="6.25"/><circle cx="784.6" cy="205.5" r="6.25"/><circle cx="774.9" cy="242.3" r="6.25"/><circle cx="720.2" cy="315.9" r="6.25"/><circle cx="668.1" cy="389.5" r="6.25"/><circle cx="618.4" cy="463.1" r="6.25"/><circle cx="590.0" cy="536.8" r="6.25"/><circle cx="564.2" cy="610.4" r="6.25"/></g>
<polyline points="797.0,22.1 797.0,23.7 797.0,25.3 797.0,27.0 797.0,28.9 797.0,30.9 797.0,33.1 797.0,35.5 797.0,38.2 797.0,41.2 797.0,44.7 797.0,48.6 797.0,53.2 797.0,58.5 797.0,64.7 798.0,72.1 819.8,80.7 830.6,91.2 839.1,103.6 846.7,118.3 850.3,136.1 850.3,157.3 846.7,182.9 829.6,213.9 785.4,251.0 747.7,295.4 712.7,349.0 671.4,413.1 626.6,489.8 583.5,581.2" fill="none" stroke="#ff00ff" stroke-width="2.75" stroke-linejoin="round"/>
<g fill="#ff00ff"><circle cx="797.0" cy="22.1" r="6.25"/><circle cx="797.0" cy="23.7" r="6.25"/><circle cx="797.0" cy="25.3" r="6.25"/><circle cx="797.0" cy="27.0" r="6.25"/><circle cx="797.0" cy="28.9" r="6.25"/><circle cx="797.0" cy="30.9" r="6.25"/><circle cx="797.0" cy="33.1" r="6.25"/><circle cx="797.0" cy="35.5" r="6.25"/><circle cx="797.0" cy="38.2" r="6.25"/><circle cx="797.0" cy="41.2" r="6.25"/><circle cx="797.0" cy="44.7" r="6.25"/><circle cx="797.0" cy="48.6" r="6.25"/><circle cx="797.0" cy="53.2" r="6.25"/><circle cx="797.0" cy="58.5" r="6.25"/><circle cx="797.0" cy="64.7" r="6.25"/><circle cx="798.0" cy="72.1" r="6.25"/><circle cx="819.8" cy="80.7" r="6.25"/><circle cx="830.6" cy="91.2" r="6.25"/><circle cx="839.1" cy="103.6" r="6.25"/><circle cx="846.7" cy="118.3" r="6.25"/><circle cx="850.3" cy="136.1" r="6.25"/><circle cx="850.3" cy="157.3" r="6.25"/><circle cx="846.7" cy="182.9" r="6.25"/><circle cx="829.6" cy="213.9" r="6.25"/><circle cx="785.4" cy="251.0" r="6.25"/><circle cx="747.7" cy="295.4" r="6.25"/><circle cx="712.7" cy="349.0" r="6.25"/><circle cx="671.4" cy="413.1" r="6.25"/><circle cx="626.6" cy="489.8" r="6.25"/><circle cx="583.5" cy="581.2" r="6.25"/></g>
</g>
<rect x="520.50" y="21.50" width="396.00" height="589.00" fill="none" stroke="#000" stroke-width="1.39"/>
<path d="M520.50 21.50h-6.10 M520.50 95.50h-6.10 M520.50 168.50h-6.10 M520.50 242.50h-6.10 M520.50 315.50h-6.10 M520.50 389.50h-6.10 M520.50 463.50h-6.10 M520.50 536.50h-6.10 M520.50 610.50h-6.10 M532.50 610.50v6.10 M614.50 610.50v6.10 M696.50 610.50v6.10 M778.50 610.50v6.10 M861.50 610.50v6.10" stroke="#000" stroke-width="1.39" fill="none"/>
<text x="532.30" y="640.20" font-size="22.64" text-anchor="middle">35.5</text>
<text x="614.50" y="640.20" font-size="22.64" text-anchor="middle">36.0</text>
<text x="696.60" y="640.20" font-size="22.64" text-anchor="middle">36.5</text>
<text x="778.60" y="640.20" font-size="22.64" text-anchor="middle">37.0</text>
<text x="861.40" y="640.20" font-size="22.64" text-anchor="middle">37.5</text>
<text x="718.50" y="671.10" font-size="24.38" font-weight="bold" text-anchor="middle">Salinity (psu)</text>
<path d="M940.50 95.50H1337.50 M940.50 168.50H1337.50 M940.50 242.50H1337.50 M940.50 315.50H1337.50 M940.50 389.50H1337.50 M940.50 463.50H1337.50 M940.50 536.50H1337.50 M976.50 21.40V610.40 M1116.50 21.40V610.40 M1256.50 21.40V610.40" stroke="#b0b0b0" stroke-width="0.87" stroke-dasharray="3.22 1.39" fill="none"/>
<g clip-path="url(#c2)">
<polyline points="981.3,21.4 981.7,24.3 982.2,27.3 982.6,30.2 983.0,33.2 983.4,36.1 983.9,39.1 984.3,42.0 984.7,45.0 985.2,47.9 985.6,50.8 986.0,53.8 986.4,56.7 986.9,59.7 987.3,62.6 987.9,65.6 988.7,68.5 991.0,71.5 993.6,74.4 997.7,77.4 1003.3,80.3 1010.7,83.2 1021.9,86.2 1033.6,89.1 1043.8,92.1 1049.2,95.0 1052.4,98.0 1056.7,100.9 1061.4,103.9 1065.0,106.8 1068.4,109.8 1070.8,112.7 1073.3,115.6 1075.8,118.6 1078.2,121.5 1082.1,124.5 1085.6,127.4 1088.6,130.4 1091.6,133.3 1094.7,136.3 1097.2,139.2 1099.4,142.1 1101.5,145.1 1103.5,148.0 1105.6,151.0 1107.4,153.9 1108.9,156.9 1110.4,159.8 1111.9,162.8 1113.5,165.7 1115.3,168.7 1117.1,171.6 1118.9,174.5 1120.6,177.5 1121.8,180.4 1123.1,183.4 1124.3,186.3 1125.5,189.3 1126.5,192.2 1127.5,195.2 1128.5,198.1 1129.4,201.0 1130.6,204.0 1131.9,206.9 1133.1,209.9 1134.3,212.8 1135.7,215.8 1137.0,218.7 1138.4,221.7 1139.7,224.6 1140.9,227.6 1142.1,230.5 1143.2,233.4 1144.3,236.4 1145.7,239.3 1147.3,242.3 1148.9,245.2 1150.5,248.2 1152.3,251.1 1154.0,254.1 1155.8,257.0 1157.6,259.9 1159.4,262.9 1161.2,265.8 1163.0,268.8 1164.8,271.7 1166.6,274.7 1168.5,277.6 1170.6,280.6 1172.8,283.5 1174.9,286.4 1177.1,289.4 1179.1,292.3 1181.1,295.3 1183.1,298.2 1185.1,301.2 1187.2,304.1 1189.2,307.1 1191.7,310.0 1194.3,313.0 1196.8,315.9 1199.2,318.8 1201.7,321.8 1203.6,324.7 1204.4,327.7 1205.1,330.6 1205.8,333.6 1206.4,336.5 1207.0,339.5 1208.1,342.4 1209.6,345.3 1211.1,348.3 1212.5,351.2 1214.0,354.2 1215.5,357.1 1216.6,360.1 1217.7,363.0 1218.8,366.0 1219.8,368.9 1220.9,371.9 1222.0,374.8 1223.1,377.7 1224.3,380.7 1225.4,383.6 1226.5,386.6 1227.6,389.5 1229.1,392.5 1231.0,395.4 1232.8,398.4 1234.3,401.3 1235.1,404.2 1235.9,407.2 1236.7,410.1 1237.6,413.1 1238.4,416.0 1239.6,419.0 1240.9,421.9 1242.2,424.9 1243.6,427.8 1244.9,430.8 1246.2,433.7 1247.4,436.6 1248.6,439.6 1249.8,442.5 1251.0,445.5 1252.2,448.4 1253.2,451.4 1253.9,454.3 1254.5,457.3 1255.2,460.2 1255.8,463.1 1256.5,466.1 1257.3,469.0 1258.3,472.0 1259.2,474.9 1260.2,477.9 1261.1,480.8 1262.1,483.8 1263.1,486.7 1264.2,489.7 1265.3,492.6 1266.4,495.5 1267.5,498.5 1268.6,501.4 1269.9,504.4 1271.2,507.3 1272.6,510.3 1273.9,513.2 1275.2,516.2 1276.3,519.1 1277.3,522.0 1278.3,525.0 1279.3,527.9 1280.3,530.9 1281.3,533.8 1282.2,536.8 1283.1,539.7 1284.0,542.7 1284.8,545.6 1285.7,548.6 1286.6,551.5 1287.5,554.4 1288.4,557.4 1289.3,560.3 1290.2,563.3 1291.0,566.2 1291.9,569.2 1292.7,572.1 1293.5,575.1 1294.4,578.0 1295.2,580.9 1296.0,583.9 1296.8,586.8 1297.6,589.8 1298.4,592.7 1299.2,595.7 1299.9,598.6 1300.7,601.6 1301.1,604.5 1301.6,607.5 1302.0,610.4" fill="none" stroke="#0000ff" stroke-width="2.75" stroke-linejoin="round"/>
<g fill="#0000ff"><circle cx="981.3" cy="21.4" r="6.25"/><circle cx="981.7" cy="24.3" r="6.25"/><circle cx="982.2" cy="27.3" r="6.25"/><circle cx="982.6" cy="30.2" r="6.25"/><circle cx="983.0" cy="33.2" r="6.25"/><circle cx="983.4" cy="36.1" r="6.25"/><circle cx="983.9" cy="39.1" r="6.25"/><circle cx="984.3" cy="42.0" r="6.25"/><circle cx="984.7" cy="45.0" r="6.25"/><circle cx="985.2" cy="47.9" r="6.25"/><circle cx="985.6" cy="50.8" r="6.25"/><circle cx="986.0" cy="53.8" r="6.25"/><circle cx="986.4" cy="56.7" r="6.25"/><circle cx="986.9" cy="59.7" r="6.25"/><circle cx="987.3" cy="62.6" r="6.25"/><circle cx="987.9" cy="65.6" r="6.25"/><circle cx="988.7" cy="68.5" r="6.25"/><circle cx="991.0" cy="71.5" r="6.25"/><circle cx="993.6" cy="74.4" r="6.25"/><circle cx="997.7" cy="77.4" r="6.25"/><circle cx="1003.3" cy="80.3" r="6.25"/><circle cx="1010.7" cy="83.2" r="6.25"/><circle cx="1021.9" cy="86.2" r="6.25"/><circle cx="1033.6" cy="89.1" r="6.25"/><circle cx="1043.8" cy="92.1" r="6.25"/><circle cx="1049.2" cy="95.0" r="6.25"/><circle cx="1052.4" cy="98.0" r="6.25"/><circle cx="1056.7" cy="100.9" r="6.25"/><circle cx="1061.4" cy="103.9" r="6.25"/><circle cx="1065.0" cy="106.8" r="6.25"/><circle cx="1068.4" cy="109.8" r="6.25"/><circle cx="1070.8" cy="112.7" r="6.25"/><circle cx="1073.3" cy="115.6" r="6.25"/><circle cx="1075.8" cy="118.6" r="6.25"/><circle cx="1078.2" cy="121.5" r="6.25"/><circle cx="1082.1" cy="124.5" r="6.25"/><circle cx="1085.6" cy="127.4" r="6.25"/><circle cx="1088.6" cy="130.4" r="6.25"/><circle cx="1091.6" cy="133.3" r="6.25"/><circle cx="1094.7" cy="136.3" r="6.25"/><circle cx="1097.2" cy="139.2" r="6.25"/><circle cx="1099.4" cy="142.1" r="6.25"/><circle cx="1101.5" cy="145.1" r="6.25"/><circle cx="1103.5" cy="148.0" r="6.25"/><circle cx="1105.6" cy="151.0" r="6.25"/><circle cx="1107.4" cy="153.9" r="6.25"/><circle cx="1108.9" cy="156.9" r="6.25"/><circle cx="1110.4" cy="159.8" r="6.25"/><circle cx="1111.9" cy="162.8" r="6.25"/><circle cx="1113.5" cy="165.7" r="6.25"/><circle cx="1115.3" cy="168.7" r="6.25"/><circle cx="1117.1" cy="171.6" r="6.25"/><circle cx="1118.9" cy="174.5" r="6.25"/><circle cx="1120.6" cy="177.5" r="6.25"/><circle cx="1121.8" cy="180.4" r="6.25"/><circle cx="1123.1" cy="183.4" r="6.25"/><circle cx="1124.3" cy="186.3" r="6.25"/><circle cx="1125.5" cy="189.3" r="6.25"/><circle cx="1126.5" cy="192.2" r="6.25"/><circle cx="1127.5" cy="195.2" r="6.25"/><circle cx="1128.5" cy="198.1" r="6.25"/><circle cx="1129.4" cy="201.0" r="6.25"/><circle cx="1130.6" cy="204.0" r="6.25"/><circle cx="1131.9" cy="206.9" r="6.25"/><circle cx="1133.1" cy="209.9" r="6.25"/><circle cx="1134.3" cy="212.8" r="6.25"/><circle cx="1135.7" cy="215.8" r="6.25"/><circle cx="1137.0" cy="218.7" r="6.25"/><circle cx="1138.4" cy="221.7" r="6.25"/><circle cx="1139.7" cy="224.6" r="6.25"/><circle cx="1140.9" cy="227.6" r="6.25"/><circle cx="1142.1" cy="230.5" r="6.25"/><circle cx="1143.2" cy="233.4" r="6.25"/><circle cx="1144.3" cy="236.4" r="6.25"/><circle cx="1145.7" cy="239.3" r="6.25"/><circle cx="1147.3" cy="242.3" r="6.25"/><circle cx="1148.9" cy="245.2" r="6.25"/><circle cx="1150.5" cy="248.2" r="6.25"/><circle cx="1152.3" cy="251.1" r="6.25"/><circle cx="1154.0" cy="254.1" r="6.25"/><circle cx="1155.8" cy="257.0" r="6.25"/><circle cx="1157.6" cy="259.9" r="6.25"/><circle cx="1159.4" cy="262.9" r="6.25"/><circle cx="1161.2" cy="265.8" r="6.25"/><circle cx="1163.0" cy="268.8" r="6.25"/><circle cx="1164.8" cy="271.7" r="6.25"/><circle cx="1166.6" cy="274.7" r="6.25"/><circle cx="1168.5" cy="277.6" r="6.25"/><circle cx="1170.6" cy="280.6" r="6.25"/><circle cx="1172.8" cy="283.5" r="6.25"/><circle cx="1174.9" cy="286.4" r="6.25"/><circle cx="1177.1" cy="289.4" r="6.25"/><circle cx="1179.1" cy="292.3" r="6.25"/><circle cx="1181.1" cy="295.3" r="6.25"/><circle cx="1183.1" cy="298.2" r="6.25"/><circle cx="1185.1" cy="301.2" r="6.25"/><circle cx="1187.2" cy="304.1" r="6.25"/><circle cx="1189.2" cy="307.1" r="6.25"/><circle cx="1191.7" cy="310.0" r="6.25"/><circle cx="1194.3" cy="313.0" r="6.25"/><circle cx="1196.8" cy="315.9" r="6.25"/><circle cx="1199.2" cy="318.8" r="6.25"/><circle cx="1201.7" cy="321.8" r="6.25"/><circle cx="1203.6" cy="324.7" r="6.25"/><circle cx="1204.4" cy="327.7" r="6.25"/><circle cx="1205.1" cy="330.6" r="6.25"/><circle cx="1205.8" cy="333.6" r="6.25"/><circle cx="1206.4" cy="336.5" r="6.25"/><circle cx="1207.0" cy="339.5" r="6.25"/><circle cx="1208.1" cy="342.4" r="6.25"/><circle cx="1209.6" cy="345.3" r="6.25"/><circle cx="1211.1" cy="348.3" r="6.25"/><circle cx="1212.5" cy="351.2" r="6.25"/><circle cx="1214.0" cy="354.2" r="6.25"/><circle cx="1215.5" cy="357.1" r="6.25"/><circle cx="1216.6" cy="360.1" r="6.25"/><circle cx="1217.7" cy="363.0" r="6.25"/><circle cx="1218.8" cy="366.0" r="6.25"/><circle cx="1219.8" cy="368.9" r="6.25"/><circle cx="1220.9" cy="371.9" r="6.25"/><circle cx="1222.0" cy="374.8" r="6.25"/><circle cx="1223.1" cy="377.7" r="6.25"/><circle cx="1224.3" cy="380.7" r="6.25"/><circle cx="1225.4" cy="383.6" r="6.25"/><circle cx="1226.5" cy="386.6" r="6.25"/><circle cx="1227.6" cy="389.5" r="6.25"/><circle cx="1229.1" cy="392.5" r="6.25"/><circle cx="1231.0" cy="395.4" r="6.25"/><circle cx="1232.8" cy="398.4" r="6.25"/><circle cx="1234.3" cy="401.3" r="6.25"/><circle cx="1235.1" cy="404.2" r="6.25"/><circle cx="1235.9" cy="407.2" r="6.25"/><circle cx="1236.7" cy="410.1" r="6.25"/><circle cx="1237.6" cy="413.1" r="6.25"/><circle cx="1238.4" cy="416.0" r="6.25"/><circle cx="1239.6" cy="419.0" r="6.25"/><circle cx="1240.9" cy="421.9" r="6.25"/><circle cx="1242.2" cy="424.9" r="6.25"/><circle cx="1243.6" cy="427.8" r="6.25"/><circle cx="1244.9" cy="430.8" r="6.25"/><circle cx="1246.2" cy="433.7" r="6.25"/><circle cx="1247.4" cy="436.6" r="6.25"/><circle cx="1248.6" cy="439.6" r="6.25"/><circle cx="1249.8" cy="442.5" r="6.25"/><circle cx="1251.0" cy="445.5" r="6.25"/><circle cx="1252.2" cy="448.4" r="6.25"/><circle cx="1253.2" cy="451.4" r="6.25"/><circle cx="1253.9" cy="454.3" r="6.25"/><circle cx="1254.5" cy="457.3" r="6.25"/><circle cx="1255.2" cy="460.2" r="6.25"/><circle cx="1255.8" cy="463.1" r="6.25"/><circle cx="1256.5" cy="466.1" r="6.25"/><circle cx="1257.3" cy="469.0" r="6.25"/><circle cx="1258.3" cy="472.0" r="6.25"/><circle cx="1259.2" cy="474.9" r="6.25"/><circle cx="1260.2" cy="477.9" r="6.25"/><circle cx="1261.1" cy="480.8" r="6.25"/><circle cx="1262.1" cy="483.8" r="6.25"/><circle cx="1263.1" cy="486.7" r="6.25"/><circle cx="1264.2" cy="489.7" r="6.25"/><circle cx="1265.3" cy="492.6" r="6.25"/><circle cx="1266.4" cy="495.5" r="6.25"/><circle cx="1267.5" cy="498.5" r="6.25"/><circle cx="1268.6" cy="501.4" r="6.25"/><circle cx="1269.9" cy="504.4" r="6.25"/><circle cx="1271.2" cy="507.3" r="6.25"/><circle cx="1272.6" cy="510.3" r="6.25"/><circle cx="1273.9" cy="513.2" r="6.25"/><circle cx="1275.2" cy="516.2" r="6.25"/><circle cx="1276.3" cy="519.1" r="6.25"/><circle cx="1277.3" cy="522.0" r="6.25"/><circle cx="1278.3" cy="525.0" r="6.25"/><circle cx="1279.3" cy="527.9" r="6.25"/><circle cx="1280.3" cy="530.9" r="6.25"/><circle cx="1281.3" cy="533.8" r="6.25"/><circle cx="1282.2" cy="536.8" r="6.25"/><circle cx="1283.1" cy="539.7" r="6.25"/><circle cx="1284.0" cy="542.7" r="6.25"/><circle cx="1284.8" cy="545.6" r="6.25"/><circle cx="1285.7" cy="548.6" r="6.25"/><circle cx="1286.6" cy="551.5" r="6.25"/><circle cx="1287.5" cy="554.4" r="6.25"/><circle cx="1288.4" cy="557.4" r="6.25"/><circle cx="1289.3" cy="560.3" r="6.25"/><circle cx="1290.2" cy="563.3" r="6.25"/><circle cx="1291.0" cy="566.2" r="6.25"/><circle cx="1291.9" cy="569.2" r="6.25"/><circle cx="1292.7" cy="572.1" r="6.25"/><circle cx="1293.5" cy="575.1" r="6.25"/><circle cx="1294.4" cy="578.0" r="6.25"/><circle cx="1295.2" cy="580.9" r="6.25"/><circle cx="1296.0" cy="583.9" r="6.25"/><circle cx="1296.8" cy="586.8" r="6.25"/><circle cx="1297.6" cy="589.8" r="6.25"/><circle cx="1298.4" cy="592.7" r="6.25"/><circle cx="1299.2" cy="595.7" r="6.25"/><circle cx="1299.9" cy="598.6" r="6.25"/><circle cx="1300.7" cy="601.6" r="6.25"/><circle cx="1301.1" cy="604.5" r="6.25"/><circle cx="1301.6" cy="607.5" r="6.25"/><circle cx="1302.0" cy="610.4" r="6.25"/></g>
<polyline points="975.4,21.4 976.0,24.3 976.6,27.3 977.2,30.2 977.8,33.2 978.4,36.1 979.0,39.1 979.9,43.5 981.4,50.8 984.0,58.2 988.5,65.6 992.8,72.9 996.5,80.3 1004.2,87.7 1010.7,95.0 1028.0,109.8 1048.6,124.5 1068.4,139.2 1084.4,153.9 1099.5,168.7 1132.7,205.5 1157.0,242.3 1195.0,315.9 1226.5,389.5 1251.8,463.1 1276.7,536.8 1300.0,610.4" fill="none" stroke="#008000" stroke-width="2.75" stroke-linejoin="round"/>
<g fill="#008000"><circle cx="975.4" cy="21.4" r="6.25"/><circle cx="976.0" cy="24.3" r="6.25"/><circle cx="976.6" cy="27.3" r="6.25"/><circle cx="977.2" cy="30.2" r="6.25"/><circle cx="977.8" cy="33.2" r="6.25"/><circle cx="978.4" cy="36.1" r="6.25"/><circle cx="979.0" cy="39.1" r="6.25"/><circle cx="979.9" cy="43.5" r="6.25"/><circle cx="981.4" cy="50.8" r="6.25"/><circle cx="984.0" cy="58.2" r="6.25"/><circle cx="988.5" cy="65.6" r="6.25"/><circle cx="992.8" cy="72.9" r="6.25"/><circle cx="996.5" cy="80.3" r="6.25"/><circle cx="1004.2" cy="87.7" r="6.25"/><circle cx="1010.7" cy="95.0" r="6.25"/><circle cx="1028.0" cy="109.8" r="6.25"/><circle cx="1048.6" cy="124.5" r="6.25"/><circle cx="1068.4" cy="139.2" r="6.25"/><circle cx="1084.4" cy="153.9" r="6.25"/><circle cx="1099.5" cy="168.7" r="6.25"/><circle cx="1132.7" cy="205.5" r="6.25"/><circle cx="1157.0" cy="242.3" r="6.25"/><circle cx="1195.0" cy="315.9" r="6.25"/><circle cx="1226.5" cy="389.5" r="6.25"/><circle cx="1251.8" cy="463.1" r="6.25"/><circle cx="1276.7" cy="536.8" r="6.25"/><circle cx="1300.0" cy="610.4" r="6.25"/></g>
<polyline points="984.7,21.4 985.3,24.3 985.8,27.3 986.4,30.2 987.0,33.2 987.5,36.1 988.1,39.1 989.0,43.5 990.4,50.8 991.8,58.2 994.0,65.6 999.0,72.9 1008.2,80.3 1017.0,87.7 1027.6,95.0 1040.8,109.8 1059.0,124.5 1076.6,139.2 1092.0,153.9 1105.6,168.7 1141.4,205.5 1158.6,242.3 1195.7,315.9 1226.8,389.5 1253.5,463.1 1277.9,536.8 1301.4,610.4" fill="none" stroke="#ff0000" stroke-width="2.75" stroke-linejoin="round"/>
<g fill="#ff0000"><circle cx="984.7" cy="21.4" r="6.25"/><circle cx="985.3" cy="24.3" r="6.25"/><circle cx="985.8" cy="27.3" r="6.25"/><circle cx="986.4" cy="30.2" r="6.25"/><circle cx="987.0" cy="33.2" r="6.25"/><circle cx="987.5" cy="36.1" r="6.25"/><circle cx="988.1" cy="39.1" r="6.25"/><circle cx="989.0" cy="43.5" r="6.25"/><circle cx="990.4" cy="50.8" r="6.25"/><circle cx="991.8" cy="58.2" r="6.25"/><circle cx="994.0" cy="65.6" r="6.25"/><circle cx="999.0" cy="72.9" r="6.25"/><circle cx="1008.2" cy="80.3" r="6.25"/><circle cx="1017.0" cy="87.7" r="6.25"/><circle cx="1027.6" cy="95.0" r="6.25"/><circle cx="1040.8" cy="109.8" r="6.25"/><circle cx="1059.0" cy="124.5" r="6.25"/><circle cx="1076.6" cy="139.2" r="6.25"/><circle cx="1092.0" cy="153.9" r="6.25"/><circle cx="1105.6" cy="168.7" r="6.25"/><circle cx="1141.4" cy="205.5" r="6.25"/><circle cx="1158.6" cy="242.3" r="6.25"/><circle cx="1195.7" cy="315.9" r="6.25"/><circle cx="1226.8" cy="389.5" r="6.25"/><circle cx="1253.5" cy="463.1" r="6.25"/><circle cx="1277.9" cy="536.8" r="6.25"/><circle cx="1301.4" cy="610.4" r="6.25"/></g>
<polyline points="981.9,22.1 982.2,23.7 982.5,25.3 982.8,27.0 983.2,28.9 983.5,30.9 983.9,33.1 984.4,35.5 984.9,38.2 985.4,41.2 986.1,44.7 986.8,48.6 987.7,53.2 988.7,58.5 989.8,64.7 992.5,72.1 1004.6,80.7 1019.4,91.2 1037.8,103.6 1057.4,118.3 1078.4,136.1 1096.0,157.3 1114.3,182.9 1132.7,213.9 1156.5,251.0 1184.1,295.4 1210.6,349.0 1234.1,413.1 1260.4,489.8 1292.6,581.2" fill="none" stroke="#ff00ff" stroke-width="2.75" stroke-linejoin="round"/>
<g fill="#ff00ff"><circle cx="981.9" cy="22.1" r="6.25"/><circle cx="982.2" cy="23.7" r="6.25"/><circle cx="982.5" cy="25.3" r="6.25"/><circle cx="982.8" cy="27.0" r="6.25"/><circle cx="983.2" cy="28.9" r="6.25"/><circle cx="983.5" cy="30.9" r="6.25"/><circle cx="983.9" cy="33.1" r="6.25"/><circle cx="984.4" cy="35.5" r="6.25"/><circle cx="984.9" cy="38.2" r="6.25"/><circle cx="985.4" cy="41.2" r="6.25"/><circle cx="986.1" cy="44.7" r="6.25"/><circle cx="986.8" cy="48.6" r="6.25"/><circle cx="987.7" cy="53.2" r="6.25"/><circle cx="988.7" cy="58.5" r="6.25"/><circle cx="989.8" cy="64.7" r="6.25"/><circle cx="992.5" cy="72.1" r="6.25"/><circle cx="1004.6" cy="80.7" r="6.25"/><circle cx="1019.4" cy="91.2" r="6.25"/><circle cx="1037.8" cy="103.6" r="6.25"/><circle cx="1057.4" cy="118.3" r="6.25"/><circle cx="1078.4" cy="136.1" r="6.25"/><circle cx="1096.0" cy="157.3" r="6.25"/><circle cx="1114.3" cy="182.9" r="6.25"/><circle cx="1132.7" cy="213.9" r="6.25"/><circle cx="1156.5" cy="251.0" r="6.25"/><circle cx="1184.1" cy="295.4" r="6.25"/><circle cx="1210.6" cy="349.0" r="6.25"/><circle cx="1234.1" cy="413.1" r="6.25"/><circle cx="1260.4" cy="489.8" r="6.25"/><circle cx="1292.6" cy="581.2" r="6.25"/></g>
</g>
<rect x="940.50" y="21.50" width="397.00" height="589.00" fill="none" stroke="#000" stroke-width="1.39"/>
<path d="M940.50 21.50h-6.10 M940.50 95.50h-6.10 M940.50 168.50h-6.10 M940.50 242.50h-6.10 M940.50 315.50h-6.10 M940.50 389.50h-6.10 M940.50 463.50h-6.10 M940.50 536.50h-6.10 M940.50 610.50h-6.10 M976.50 610.50v6.10 M1116.50 610.50v6.10 M1256.50 610.50v6.10" stroke="#000" stroke-width="1.39" fill="none"/>
<text x="976.50" y="640.20" font-size="22.64" text-anchor="middle">1024</text>
<text x="1116.50" y="640.20" font-size="22.64" text-anchor="middle">1026</text>
<text x="1256.40" y="640.20" font-size="22.64" text-anchor="middle">1028</text>
<text x="1139.00" y="671.10" font-size="24.38" font-weight="bold" text-anchor="middle">Density</text>
<text transform="translate(30.9 316) rotate(-90)" font-size="24.38" font-weight="bold" text-anchor="middle">Depth (m)</text>
<text x="348.6" y="695.7" font-size="17.38" font-style="italic">Ocean Heat Content (kJ/cm^2) - Argo: 35.1724,  RTOFS: 26.4098,  ESPC: 32.7058,  CMEMS: 35.4377,</text>
<text x="1435.6" y="42.10" font-size="26.13" font-weight="bold">Argo #1902384</text>
<text x="1435.6" y="71.90" font-size="26.13" font-weight="bold">ARGO: 2025-09-13T08:27Z</text>
<text x="1435.6" y="101.70" font-size="26.13" font-weight="bold">ESPC : 2025-09-13T09:00Z</text>
<text x="1435.6" y="131.50" font-size="26.13" font-weight="bold">RTOFS: 2025-09-13T06:00Z</text>
<text x="1435.6" y="161.30" font-size="26.13" font-weight="bold">CMEMS: 2025-09-13T06:00Z</text>
<defs><clipPath id="cm"><rect x="1523.50" y="197.00" width="272.00" height="237.40"/></clipPath></defs>
<rect x="1523.50" y="197.00" width="272.00" height="237.40" fill="#97b6e1"/>
<g clip-path="url(#cm)" stroke-linejoin="round" stroke-linecap="round">
<polygon points="1514.9,328.2 1523.5,328.2 1527.6,327.8 1532.6,328.9 1536.4,330.7 1539.0,334.5 1542.1,336.4 1547.8,336.2 1554.1,335.2 1558.6,336.4 1561.7,339.0 1566.8,340.2 1571.8,339.6 1575.6,337.7 1579.4,335.8 1575.6,332.6 1583.2,333.7 1588.9,335.2 1590.8,339.0 1594.0,342.1 1598.4,342.8 1602.2,343.4 1606.0,346.6 1607.3,350.3 1608.5,353.5 1612.3,354.8 1616.1,356.7 1621.2,360.5 1626.2,364.3 1627.5,369.9 1629.4,368.1 1631.3,370.6 1635.3,375.3 1641.6,378.5 1647.9,379.7 1653.0,380.3 1660.6,379.7 1666.9,379.7 1673.2,381.6 1679.5,384.1 1685.9,387.9 1690.9,392.4 1696.0,394.9 1698.5,400.6 1700.4,406.9 1702.9,413.2 1706.1,415.8 1709.3,419.5 1708.6,424.6 1706.1,428.4 1709.9,430.3 1715.0,434.7 1496.2,434.7" fill="#d2b48c" stroke="#000" stroke-width="2.6"/>
<polygon points="1697.9,434.1 1703.6,427.1 1708.0,421.4 1709.9,430.9 1715.0,434.1" fill="#000"/>
<circle cx="1578.2" cy="332.6" r="1.8" fill="#000"/>
<circle cx="1580.7" cy="334.2" r="1.5" fill="#000"/>
<circle cx="1607.9" cy="351.6" r="1.5" fill="#000"/>
<circle cx="1628.8" cy="370.6" r="1.3" fill="#000"/>
<circle cx="1629.0" cy="370.9" r="1.5" fill="#000"/>
<circle cx="1704.2" cy="415.1" r="1.5" fill="#000"/>
<circle cx="1653.0" cy="380.3" r="1.0" fill="#000"/>
<circle cx="1660.6" cy="380.1" r="1.0" fill="#000"/>
<circle cx="1692.2" cy="393.6" r="1.0" fill="#000"/>
<polygon points="1589.3,335.4 1607.0,334.3 1607.3,340.7 1601.9,341.6 1595.9,342.3 1592.3,340.2 1590.3,337.5" fill="#d2b48c" stroke="#000" stroke-width="2.3"/>
<polygon points="1591.6,337.7 1601.7,336.3 1601.8,340.2 1597.4,341.1 1594.0,340.5" fill="#97b6e1"/>
<polyline points="1606.0,351.6 1600.9,353.5 1595.9,354.1 1590.8,356.0 1583.2,358.6 1575.6,360.5 1570.6,363.0 1564.3,361.1 1556.7,363.6 1551.6,367.4 1549.7,370.6 1549.1,375.6 1545.3,378.2 1543.4,383.2 1542.8,390.8 1544.0,395.9 1550.3,398.4 1555.4,403.5 1563.0,407.3 1568.1,410.0 1573.1,413.6" fill="none" stroke="#97b6e1" stroke-width="1.9"/>
<polyline points="1595.9,354.1 1594.0,349.1 1593.3,344.7" fill="none" stroke="#97b6e1" stroke-width="1.9"/>
<polyline points="1596.5,351.6 1598.7,346.6" fill="none" stroke="#97b6e1" stroke-width="1.9"/>
<polyline points="1523.5,378.8 1532.6,377.5 1547.2,376.9" fill="none" stroke="#97b6e1" stroke-width="1.9"/>
<polyline points="1580.7,407.3 1580.1,402.2 1584.5,400.9 1590.8,403.5 1600.9,404.1 1609.8,402.8 1611.0,407.3 1609.2,413.6 1607.3,421.2 1603.5,431.3" fill="none" stroke="#97b6e1" stroke-width="1.9"/>
<polyline points="1545.3,407.3 1541.5,411.0 1540.2,416.1 1540.9,421.2 1540.2,432.5" fill="none" stroke="#97b6e1" stroke-width="1.9"/>
<polyline points="1523.5,419.9 1530.1,418.0 1537.7,416.1 1541.5,413.6" fill="none" stroke="#97b6e1" stroke-width="1.9"/>
<polyline points="1580.7,407.3 1580.7,413.6 1583.2,417.4" fill="none" stroke="#97b6e1" stroke-width="1.9"/>
<circle cx="1660.8" cy="390.5" r="1.6" fill="#b4bcc8"/>
<polyline points="1524.4,373.7 1528.9,376.9 1536.4,377.5 1546.6,376.9 1544.7,382.0 1542.8,388.3 1543.4,394.6 1545.9,400.9 1542.8,407.3 1544.0,413.6 1547.2,419.9 1551.6,425.0 1557.9,426.2 1564.3,424.3 1570.6,419.9 1575.6,416.1 1577.5,407.3 1575.6,400.9 1570.6,395.2" fill="none" stroke="#000" stroke-width="1.7" stroke-dasharray="4.6 2.4" stroke-linecap="butt"/>
<polyline points="1523.5,420.5 1530.1,421.2 1539.0,419.9 1545.3,417.4" fill="none" stroke="#000" stroke-width="1.7" stroke-dasharray="4.6 2.4" stroke-linecap="butt"/>
<polyline points="1615.5,359.2 1611.0,362.4 1608.5,365.5 1611.0,369.9 1606.0,371.8 1603.5,376.9 1604.7,382.0 1609.8,385.8 1608.5,389.5 1602.2,393.3 1594.6,396.5 1588.3,399.7 1583.2,397.8 1578.2,397.1 1570.6,395.2" fill="none" stroke="#000" stroke-width="1.7" stroke-dasharray="4.6 2.4" stroke-linecap="butt"/>
<polyline points="1609.8,385.8 1614.8,386.4 1613.6,390.8 1618.0,393.3 1618.6,398.4 1616.7,403.5 1614.8,410.0" fill="none" stroke="#000" stroke-width="1.7" stroke-dasharray="4.6 2.4" stroke-linecap="butt"/>
<polyline points="1641.6,381.6 1640.3,386.7 1635.3,389.2 1633.4,394.3 1635.3,400.6 1639.7,405.6 1642.9,412.0 1646.7,415.8" fill="none" stroke="#000" stroke-width="1.7" stroke-dasharray="4.6 2.4" stroke-linecap="butt"/>
<polyline points="1629.0,422.1 1634.0,418.9 1640.3,417.0 1646.7,415.8 1651.7,415.8 1653.0,412.0 1660.6,410.7 1665.6,413.2" fill="none" stroke="#000" stroke-width="1.7" stroke-dasharray="4.6 2.4" stroke-linecap="butt"/>
<polyline points="1669.4,384.1 1666.3,387.9 1667.5,395.5 1670.7,401.8 1668.2,408.2 1665.6,413.2" fill="none" stroke="#000" stroke-width="1.7" stroke-dasharray="4.6 2.4" stroke-linecap="butt"/>
<polyline points="1665.6,413.2 1675.8,412.6 1682.1,412.0 1685.9,405.6 1689.7,400.6 1693.5,395.5" fill="none" stroke="#000" stroke-width="1.7" stroke-dasharray="4.6 2.4" stroke-linecap="butt"/>
<polyline points="1604.3,381.6 1610.0,386.7 1613.8,386.7 1615.1,391.7 1618.9,396.8 1616.3,403.1 1616.3,410.7 1618.2,417.0 1621.4,420.8 1625.2,422.1 1629.0,422.1" fill="none" stroke="#000" stroke-width="1.7" stroke-dasharray="4.6 2.4" stroke-linecap="butt"/>
<polyline points="1524.4,426.2 1530.1,425.6" fill="none" stroke="#000" stroke-width="1.7" stroke-dasharray="4.6 2.4" stroke-linecap="butt"/>
<polyline points="1524.4,430.0 1530.1,431.3" fill="none" stroke="#000" stroke-width="1.7" stroke-dasharray="4.6 2.4" stroke-linecap="butt"/>
<polyline points="1625.2,422.1 1625.8,428.4 1625.8,434.7" fill="none" stroke="#000" stroke-width="1.3"/>
<polyline points="1614.4,434.7 1614.4,432.8 1625.8,432.8" fill="none" stroke="#000" stroke-width="1.3"/>
<polyline points="1663.1,413.2 1665.6,417.0 1673.2,420.8 1677.0,425.9 1679.5,434.7" fill="none" stroke="#000" stroke-width="1.3"/>
<polyline points="1575.6,416.1 1583.2,417.4 1588.3,421.2 1589.5,427.5 1588.9,433.8" fill="none" stroke="#000" stroke-width="1.3"/>
<polygon points="1514.9,253.3 1524.4,253.3 1531.4,253.7 1533.3,257.1 1537.1,258.7 1538.7,260.5 1536.7,262.8 1533.9,263.8 1532.0,261.8 1514.9,260.9" fill="#d2b48c" stroke="#000" stroke-width="2.3"/>
<ellipse cx="1529.1" cy="253.7" rx="3.4" ry="2.1" fill="#000" transform="rotate(0 1529.1 253.7)"/>
<ellipse cx="1534.9" cy="263.8" rx="1.9" ry="1.9" fill="#000" transform="rotate(0 1534.9 263.8)"/>
<polygon points="1548.8,261.5 1561.7,261.0 1569.9,261.2 1569.9,263.8 1564.3,264.9 1561.5,266.2 1549.3,266.6" fill="#d2b48c" stroke="#000" stroke-width="2.3"/>
<polygon points="1561.7,260.5 1570.6,260.2 1574.6,258.0 1576.9,259.0 1576.1,261.8 1571.2,264.0 1564.3,265.5 1561.7,265.9" fill="#000"/>
<ellipse cx="1542.1" cy="264.9" rx="1.6" ry="1.6" fill="#000" transform="rotate(0 1542.1 264.9)"/>
<ellipse cx="1571.2" cy="268.1" rx="2.9" ry="1.9" fill="#000" transform="rotate(0 1571.2 268.1)"/>
<ellipse cx="1587.3" cy="264.3" rx="2.9" ry="2.4" fill="#000" transform="rotate(40 1587.3 264.3)"/>
<ellipse cx="1598.4" cy="269.3" rx="1.9" ry="1.9" fill="#000" transform="rotate(0 1598.4 269.3)"/>
<ellipse cx="1599.0" cy="274.4" rx="2.2" ry="2.1" fill="#000" transform="rotate(0 1599.0 274.4)"/>
<ellipse cx="1595.2" cy="277.9" rx="1.6" ry="1.9" fill="#000" transform="rotate(0 1595.2 277.9)"/>
<ellipse cx="1601.9" cy="283.2" rx="3.6" ry="3.9" fill="#000" transform="rotate(0 1601.9 283.2)"/>
<ellipse cx="1605.4" cy="282.0" rx="2.4" ry="1.4" fill="#000" transform="rotate(-20 1605.4 282.0)"/>
<ellipse cx="1602.8" cy="290.6" rx="2.1" ry="3.1" fill="#000" transform="rotate(-10 1602.8 290.6)"/>
<ellipse cx="1606.2" cy="298.4" rx="2.9" ry="3.4" fill="#000" transform="rotate(-15 1606.2 298.4)"/>
<ellipse cx="1606.6" cy="304.9" rx="1.9" ry="3.1" fill="#000" transform="rotate(5 1606.6 304.9)"/>
<ellipse cx="1604.5" cy="312.3" rx="1.7" ry="2.6" fill="#000" transform="rotate(10 1604.5 312.3)"/>
<ellipse cx="1601.6" cy="317.8" rx="1.2" ry="3.6" fill="#000" transform="rotate(25 1601.6 317.8)"/>
<ellipse cx="1599.4" cy="322.8" rx="1.6" ry="1.6" fill="#000" transform="rotate(0 1599.4 322.8)"/>
<ellipse cx="1619.5" cy="311.8" rx="2.2" ry="2.2" fill="#000" transform="rotate(0 1619.5 311.8)"/>
<ellipse cx="1553.1" cy="324.3" rx="2.6" ry="2.0" fill="#000" transform="rotate(0 1553.1 324.3)"/>
<ellipse cx="1558.6" cy="324.3" rx="1.5" ry="1.5" fill="#000" transform="rotate(0 1558.6 324.3)"/>
<ellipse cx="1573.1" cy="324.3" rx="1.6" ry="1.5" fill="#000" transform="rotate(0 1573.1 324.3)"/>
<ellipse cx="1538.7" cy="320.9" rx="1.9" ry="1.9" fill="#000" transform="rotate(30 1538.7 320.9)"/>
<ellipse cx="1532.6" cy="321.2" rx="3.4" ry="1.5" fill="#000" transform="rotate(40 1532.6 321.2)"/>
<ellipse cx="1610.4" cy="329.5" rx="2.1" ry="1.6" fill="#000" transform="rotate(0 1610.4 329.5)"/>
<ellipse cx="1583.2" cy="259.9" rx="0.8" ry="0.6" fill="#7f8ea8" transform="rotate(0 1583.2 259.9)"/>
<ellipse cx="1581.6" cy="287.8" rx="0.6" ry="0.6" fill="#7f8ea8" transform="rotate(0 1581.6 287.8)"/>
<ellipse cx="1545.3" cy="323.1" rx="1.3" ry="0.6" fill="#7f8ea8" transform="rotate(0 1545.3 323.1)"/>
<ellipse cx="1545.9" cy="262.1" rx="0.5" ry="0.5" fill="#7f8ea8" transform="rotate(0 1545.9 262.1)"/>
<polyline points="1585.1,269.3 1588.9,272.2 1592.3,274.4" fill="none" stroke="#000" stroke-width="1.6"/>
<ellipse cx="1566.2" cy="332.6" rx="2.1" ry="1.7" fill="#000" transform="rotate(0 1566.2 332.6)"/>
<ellipse cx="1577.5" cy="332.0" rx="2.9" ry="1.9" fill="#000" transform="rotate(-20 1577.5 332.0)"/>
<ellipse cx="1586.4" cy="328.9" rx="1.6" ry="1.4" fill="#000" transform="rotate(0 1586.4 328.9)"/>
<ellipse cx="1609.8" cy="329.9" rx="2.1" ry="1.9" fill="#000" transform="rotate(0 1609.8 329.9)"/>
<ellipse cx="1599.7" cy="321.9" rx="1.4" ry="2.4" fill="#000" transform="rotate(20 1599.7 321.9)"/>
</g>
<circle cx="1773.50" cy="257.60" r="6.35" fill="#0000ff"/>
<rect x="1523.50" y="197.00" width="272.00" height="237.40" fill="none" stroke="#000" stroke-width="1.39"/>
<path d="M1532.60 434.40v8.71 M1532.60 197.00v-8.71 M1560.34 434.40v8.71 M1560.34 197.00v-8.71 M1588.09 434.40v8.71 M1588.09 197.00v-8.71 M1615.83 434.40v8.71 M1615.83 197.00v-8.71 M1643.58 434.40v8.71 M1643.58 197.00v-8.71 M1671.32 434.40v8.71 M1671.32 197.00v-8.71 M1699.07 434.40v8.71 M1699.07 197.00v-8.71 M1726.81 434.40v8.71 M1726.81 197.00v-8.71 M1754.56 434.40v8.71 M1754.56 197.00v-8.71 M1782.30 434.40v8.71 M1782.30 197.00v-8.71 M1523.50 434.40h-8.71 M1795.50 434.40h8.71 M1523.50 406.83h-8.71 M1795.50 406.83h8.71 M1523.50 379.18h-8.71 M1795.50 379.18h8.71 M1523.50 351.38h-8.71 M1795.50 351.38h8.71 M1523.50 323.34h-8.71 M1795.50 323.34h8.71 M1523.50 294.98h-8.71 M1795.50 294.98h8.71 M1523.50 266.22h-8.71 M1795.50 266.22h8.71 M1523.50 236.96h-8.71 M1795.50 236.96h8.71 M1523.50 207.10h-8.71 M1795.50 207.10h8.71" stroke="#000" stroke-width="3.48" fill="none"/>
<path d="M1523.35 434.40v3.48 M1523.35 197.00v-3.48 M1541.85 434.40v3.48 M1541.85 197.00v-3.48 M1551.10 434.40v3.48 M1551.10 197.00v-3.48 M1569.59 434.40v3.48 M1569.59 197.00v-3.48 M1578.84 434.40v3.48 M1578.84 197.00v-3.48 M1597.34 434.40v3.48 M1597.34 197.00v-3.48 M1606.59 434.40v3.48 M1606.59 197.00v-3.48 M1625.08 434.40v3.48 M1625.08 197.00v-3.48 M1634.33 434.40v3.48 M1634.33 197.00v-3.48 M1652.83 434.40v3.48 M1652.83 197.00v-3.48 M1662.07 434.40v3.48 M1662.07 197.00v-3.48 M1680.57 434.40v3.48 M1680.57 197.00v-3.48 M1689.82 434.40v3.48 M1689.82 197.00v-3.48 M1708.31 434.40v3.48 M1708.31 197.00v-3.48 M1717.56 434.40v3.48 M1717.56 197.00v-3.48 M1736.06 434.40v3.48 M1736.06 197.00v-3.48 M1745.31 434.40v3.48 M1745.31 197.00v-3.48 M1763.80 434.40v3.48 M1763.80 197.00v-3.48 M1773.05 434.40v3.48 M1773.05 197.00v-3.48 M1791.55 434.40v3.48 M1791.55 197.00v-3.48 M1523.50 425.21h-3.48 M1795.50 425.21h3.48 M1523.50 416.02h-3.48 M1795.50 416.02h3.48 M1523.50 397.62h-3.48 M1795.50 397.62h3.48 M1523.50 388.41h-3.48 M1795.50 388.41h3.48 M1523.50 369.93h-3.48 M1795.50 369.93h3.48 M1523.50 360.67h-3.48 M1795.50 360.67h3.48 M1523.50 342.06h-3.48 M1795.50 342.06h3.48 M1523.50 332.72h-3.48 M1795.50 332.72h3.48 M1523.50 313.93h-3.48 M1795.50 313.93h3.48 M1523.50 304.48h-3.48 M1795.50 304.48h3.48 M1523.50 285.45h-3.48 M1795.50 285.45h3.48 M1523.50 275.86h-3.48 M1795.50 275.86h3.48 M1523.50 256.53h-3.48 M1795.50 256.53h3.48 M1523.50 246.78h-3.48 M1795.50 246.78h3.48 M1523.50 227.08h-3.48 M1795.50 227.08h3.48 M1523.50 217.12h-3.48 M1795.50 217.12h3.48 M1523.50 196.99h-3.48 M1795.50 196.99h3.48" stroke="#000" stroke-width="1.39" fill="none"/>
<text x="1508.20" y="440.10" font-size="13.60" text-anchor="end">0°N</text>
<text x="1508.20" y="412.53" font-size="13.60" text-anchor="end">3°N</text>
<text x="1508.20" y="384.88" font-size="13.60" text-anchor="end">6°N</text>
<text x="1508.20" y="357.08" font-size="13.60" text-anchor="end">9°N</text>
<text x="1508.20" y="329.04" font-size="13.60" text-anchor="end">12°N</text>
<text x="1508.20" y="300.68" font-size="13.60" text-anchor="end">15°N</text>
<text x="1508.20" y="271.92" font-size="13.60" text-anchor="end">18°N</text>
<text x="1508.20" y="242.66" font-size="13.60" text-anchor="end">21°N</text>
<text x="1508.20" y="212.80" font-size="13.60" text-anchor="end">24°N</text>
<text x="1532.60" y="459.90" font-size="13.60" text-anchor="middle">69°W</text>
<text x="1560.34" y="459.90" font-size="13.60" text-anchor="middle">66°W</text>
<text x="1588.09" y="459.90" font-size="13.60" text-anchor="middle">63°W</text>
<text x="1615.83" y="459.90" font-size="13.60" text-anchor="middle">60°W</text>
<text x="1643.58" y="459.90" font-size="13.60" text-anchor="middle">57°W</text>
<text x="1671.32" y="459.90" font-size="13.60" text-anchor="middle">54°W</text>
<text x="1699.07" y="459.90" font-size="13.60" text-anchor="middle">51°W</text>
<text x="1726.81" y="459.90" font-size="13.60" text-anchor="middle">48°W</text>
<text x="1754.56" y="459.90" font-size="13.60" text-anchor="middle">45°W</text>
<text x="1782.30" y="459.90" font-size="13.60" text-anchor="middle">42°W</text>
<rect x="1492.7" y="485.6" width="331.6" height="128.4" rx="3.5" fill="#fff" stroke="#d4d4d4" stroke-width="1.95"/>
<path d="M1501.3 503.35h43" stroke="#0000ff" stroke-width="2.75" stroke-linecap="square"/>
<circle cx="1522.2" cy="503.35" r="6.25" fill="#0000ff"/>
<text x="1558.9" y="510.75" font-size="21.10">1902384 [-42.93, 18.89]</text>
<path d="M1501.3 533.95h43" stroke="#008000" stroke-width="2.75" stroke-linecap="square"/>
<circle cx="1522.2" cy="533.95" r="6.25" fill="#008000"/>
<text x="1558.9" y="541.35" font-size="21.10">ESPC [-42.96, 18.88]</text>
<path d="M1501.3 564.55h43" stroke="#ff0000" stroke-width="2.75" stroke-linecap="square"/>
<circle cx="1522.2" cy="564.55" r="6.25" fill="#ff0000"/>
<text x="1558.9" y="571.95" font-size="21.10">RTOFS [-42.96, 18.93]</text>
<path d="M1501.3 595.15h43" stroke="#ff00ff" stroke-width="2.75" stroke-linecap="square"/>
<circle cx="1522.2" cy="595.15" r="6.25" fill="#ff00ff"/>
<text x="1558.9" y="602.55" font-size="21.10">CMEMS [-42.92, 18.92]</text>
</svg>
</body></html>
